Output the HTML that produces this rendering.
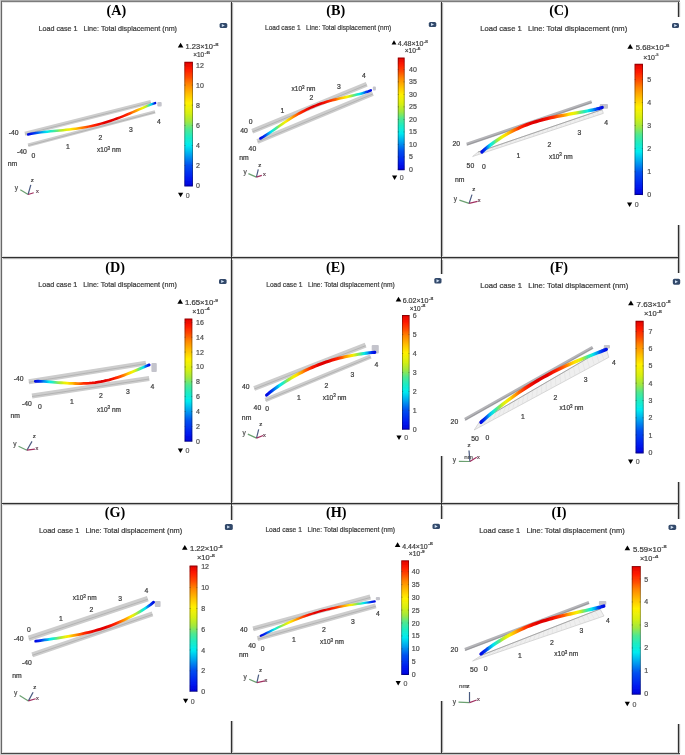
<!DOCTYPE html>
<html><head><meta charset="utf-8"><style>
html,body{margin:0;padding:0;background:#fff;width:685px;height:755px;overflow:hidden}
svg{display:block}
</style></head><body>
<svg width="685" height="755" viewBox="0 0 685 755">
<defs><linearGradient id="cb" x1="0" y1="1" x2="0" y2="0"><stop offset="0" stop-color="#0000d8"/><stop offset="0.06" stop-color="#0018f0"/><stop offset="0.17" stop-color="#0050f0"/><stop offset="0.25" stop-color="#00a0f0"/><stop offset="0.33" stop-color="#00ecf0"/><stop offset="0.4" stop-color="#20ecc0"/><stop offset="0.46" stop-color="#50e890"/><stop offset="0.52" stop-color="#a0e840"/><stop offset="0.59" stop-color="#d8f010"/><stop offset="0.67" stop-color="#fff000"/><stop offset="0.74" stop-color="#ffc000"/><stop offset="0.82" stop-color="#ff8400"/><stop offset="0.88" stop-color="#ff4800"/><stop offset="0.94" stop-color="#ff1a00"/><stop offset="1" stop-color="#e00000"/></linearGradient>
<linearGradient id="cg0" gradientUnits="userSpaceOnUse" x1="28.1" y1="0" x2="155.1" y2="0"><stop offset="0" stop-color="#0008e0"/><stop offset="0.03" stop-color="#0020f0"/><stop offset="0.05" stop-color="#003bf0"/><stop offset="0.07" stop-color="#005af0"/><stop offset="0.1" stop-color="#008df0"/><stop offset="0.12" stop-color="#00bef0"/><stop offset="0.15" stop-color="#01ecef"/><stop offset="0.17" stop-color="#17eccd"/><stop offset="0.2" stop-color="#38eaa8"/><stop offset="0.23" stop-color="#68e878"/><stop offset="0.25" stop-color="#a4e93d"/><stop offset="0.28" stop-color="#c9ee1d"/><stop offset="0.3" stop-color="#e5f00b"/><stop offset="0.33" stop-color="#faf002"/><stop offset="0.35" stop-color="#ffd900"/><stop offset="0.38" stop-color="#ffbd00"/><stop offset="0.4" stop-color="#ffa000"/><stop offset="0.42" stop-color="#ff8400"/><stop offset="0.45" stop-color="#ff6200"/><stop offset="0.47" stop-color="#ff4400"/><stop offset="0.5" stop-color="#ff2e00"/><stop offset="0.53" stop-color="#ff1b00"/><stop offset="0.55" stop-color="#f51200"/><stop offset="0.57" stop-color="#ec0a00"/><stop offset="0.6" stop-color="#e50500"/><stop offset="0.62" stop-color="#e10100"/><stop offset="0.65" stop-color="#e00000"/><stop offset="0.68" stop-color="#e10100"/><stop offset="0.7" stop-color="#e60500"/><stop offset="0.72" stop-color="#ee0c00"/><stop offset="0.75" stop-color="#f91500"/><stop offset="0.78" stop-color="#ff2800"/><stop offset="0.8" stop-color="#ff4400"/><stop offset="0.82" stop-color="#ff7100"/><stop offset="0.85" stop-color="#ff9e00"/><stop offset="0.88" stop-color="#ffce00"/><stop offset="0.9" stop-color="#f2f005"/><stop offset="0.93" stop-color="#baec2a"/><stop offset="0.95" stop-color="#42e99e"/><stop offset="0.97" stop-color="#00d1f0"/><stop offset="1" stop-color="#0008e0"/></linearGradient>
<linearGradient id="cg1" gradientUnits="userSpaceOnUse" x1="260.4" y1="0" x2="370.8" y2="0"><stop offset="0" stop-color="#0008e0"/><stop offset="0.03" stop-color="#002bf0"/><stop offset="0.05" stop-color="#0053f0"/><stop offset="0.07" stop-color="#009ff0"/><stop offset="0.1" stop-color="#00e5f0"/><stop offset="0.12" stop-color="#1eecc3"/><stop offset="0.15" stop-color="#57e889"/><stop offset="0.17" stop-color="#aae938"/><stop offset="0.2" stop-color="#dbf00f"/><stop offset="0.23" stop-color="#f8f003"/><stop offset="0.25" stop-color="#ffd300"/><stop offset="0.28" stop-color="#ffad00"/><stop offset="0.3" stop-color="#ff8900"/><stop offset="0.33" stop-color="#ff6000"/><stop offset="0.35" stop-color="#ff3e00"/><stop offset="0.38" stop-color="#ff2500"/><stop offset="0.4" stop-color="#f91500"/><stop offset="0.42" stop-color="#ee0c00"/><stop offset="0.45" stop-color="#e60500"/><stop offset="0.47" stop-color="#e20100"/><stop offset="0.5" stop-color="#e00000"/><stop offset="0.53" stop-color="#e20100"/><stop offset="0.55" stop-color="#e60500"/><stop offset="0.57" stop-color="#ee0c00"/><stop offset="0.6" stop-color="#f91500"/><stop offset="0.62" stop-color="#ff2500"/><stop offset="0.65" stop-color="#ff3e00"/><stop offset="0.68" stop-color="#ff6000"/><stop offset="0.7" stop-color="#ff8900"/><stop offset="0.72" stop-color="#ffad00"/><stop offset="0.75" stop-color="#ffd300"/><stop offset="0.78" stop-color="#f8f003"/><stop offset="0.8" stop-color="#dbf00f"/><stop offset="0.82" stop-color="#aae938"/><stop offset="0.85" stop-color="#57e889"/><stop offset="0.88" stop-color="#1eecc3"/><stop offset="0.9" stop-color="#00e5f0"/><stop offset="0.93" stop-color="#009ff0"/><stop offset="0.95" stop-color="#0053f0"/><stop offset="0.97" stop-color="#002bf0"/><stop offset="1" stop-color="#0008e0"/></linearGradient>
<linearGradient id="cg2" gradientUnits="userSpaceOnUse" x1="481.9" y1="0" x2="602.2" y2="0"><stop offset="0" stop-color="#0008e0"/><stop offset="0.03" stop-color="#0043f0"/><stop offset="0.05" stop-color="#009cf0"/><stop offset="0.07" stop-color="#04ecea"/><stop offset="0.1" stop-color="#34eaac"/><stop offset="0.12" stop-color="#8be855"/><stop offset="0.15" stop-color="#ceef18"/><stop offset="0.17" stop-color="#f3f005"/><stop offset="0.2" stop-color="#ffd700"/><stop offset="0.23" stop-color="#ffaf00"/><stop offset="0.25" stop-color="#ff8900"/><stop offset="0.28" stop-color="#ff5f00"/><stop offset="0.3" stop-color="#ff3c00"/><stop offset="0.33" stop-color="#ff2300"/><stop offset="0.35" stop-color="#f81400"/><stop offset="0.38" stop-color="#ed0b00"/><stop offset="0.4" stop-color="#e60500"/><stop offset="0.42" stop-color="#e10100"/><stop offset="0.45" stop-color="#e00000"/><stop offset="0.47" stop-color="#e10100"/><stop offset="0.5" stop-color="#e60500"/><stop offset="0.53" stop-color="#ed0b00"/><stop offset="0.55" stop-color="#f61300"/><stop offset="0.57" stop-color="#ff2000"/><stop offset="0.6" stop-color="#ff3500"/><stop offset="0.62" stop-color="#ff5100"/><stop offset="0.65" stop-color="#ff7600"/><stop offset="0.68" stop-color="#ff9900"/><stop offset="0.7" stop-color="#ffba00"/><stop offset="0.72" stop-color="#ffdc00"/><stop offset="0.75" stop-color="#f4f005"/><stop offset="0.78" stop-color="#d9f010"/><stop offset="0.8" stop-color="#acea36"/><stop offset="0.82" stop-color="#64e87c"/><stop offset="0.85" stop-color="#2bebb5"/><stop offset="0.88" stop-color="#09ece2"/><stop offset="0.9" stop-color="#00c2f0"/><stop offset="0.93" stop-color="#0082f0"/><stop offset="0.95" stop-color="#0048f0"/><stop offset="0.97" stop-color="#0026f0"/><stop offset="1" stop-color="#0008e0"/></linearGradient>
<linearGradient id="cg3" gradientUnits="userSpaceOnUse" x1="35.3" y1="0" x2="149.2" y2="0"><stop offset="0" stop-color="#0008e0"/><stop offset="0.03" stop-color="#0026f0"/><stop offset="0.05" stop-color="#0047f0"/><stop offset="0.07" stop-color="#007df0"/><stop offset="0.1" stop-color="#00b9f0"/><stop offset="0.12" stop-color="#03ecec"/><stop offset="0.15" stop-color="#1eecc4"/><stop offset="0.17" stop-color="#49e997"/><stop offset="0.2" stop-color="#8fe851"/><stop offset="0.23" stop-color="#c1ed23"/><stop offset="0.25" stop-color="#e4f00b"/><stop offset="0.28" stop-color="#fcf001"/><stop offset="0.3" stop-color="#ffd400"/><stop offset="0.33" stop-color="#ffb400"/><stop offset="0.35" stop-color="#ff9400"/><stop offset="0.38" stop-color="#ff7300"/><stop offset="0.4" stop-color="#ff5000"/><stop offset="0.42" stop-color="#ff3600"/><stop offset="0.45" stop-color="#ff2100"/><stop offset="0.47" stop-color="#f81400"/><stop offset="0.5" stop-color="#ee0c00"/><stop offset="0.53" stop-color="#e70600"/><stop offset="0.55" stop-color="#e20200"/><stop offset="0.57" stop-color="#e00000"/><stop offset="0.6" stop-color="#e10100"/><stop offset="0.62" stop-color="#e50400"/><stop offset="0.65" stop-color="#eb0a00"/><stop offset="0.68" stop-color="#f51200"/><stop offset="0.7" stop-color="#ff1f00"/><stop offset="0.72" stop-color="#ff3700"/><stop offset="0.75" stop-color="#ff5700"/><stop offset="0.78" stop-color="#ff8300"/><stop offset="0.8" stop-color="#ffa900"/><stop offset="0.82" stop-color="#ffd200"/><stop offset="0.85" stop-color="#f5f004"/><stop offset="0.88" stop-color="#ceef19"/><stop offset="0.9" stop-color="#83e85d"/><stop offset="0.93" stop-color="#28ebb8"/><stop offset="0.95" stop-color="#00d9f0"/><stop offset="0.97" stop-color="#0068f0"/><stop offset="1" stop-color="#0008e0"/></linearGradient>
<linearGradient id="cg4" gradientUnits="userSpaceOnUse" x1="266.6" y1="0" x2="374.8" y2="0"><stop offset="0" stop-color="#0008e0"/><stop offset="0.03" stop-color="#0020f0"/><stop offset="0.05" stop-color="#003ff0"/><stop offset="0.07" stop-color="#006ff0"/><stop offset="0.1" stop-color="#00b0f0"/><stop offset="0.12" stop-color="#01ecee"/><stop offset="0.15" stop-color="#1fecc1"/><stop offset="0.17" stop-color="#53e88d"/><stop offset="0.2" stop-color="#a4e93c"/><stop offset="0.23" stop-color="#d5f012"/><stop offset="0.25" stop-color="#f3f005"/><stop offset="0.28" stop-color="#ffdb00"/><stop offset="0.3" stop-color="#ffb700"/><stop offset="0.33" stop-color="#ff9300"/><stop offset="0.35" stop-color="#ff6c00"/><stop offset="0.38" stop-color="#ff4600"/><stop offset="0.4" stop-color="#ff2c00"/><stop offset="0.42" stop-color="#fc1800"/><stop offset="0.45" stop-color="#f10e00"/><stop offset="0.47" stop-color="#e80700"/><stop offset="0.5" stop-color="#e20200"/><stop offset="0.53" stop-color="#e00000"/><stop offset="0.55" stop-color="#e10100"/><stop offset="0.57" stop-color="#e50500"/><stop offset="0.6" stop-color="#ed0b00"/><stop offset="0.62" stop-color="#f81400"/><stop offset="0.65" stop-color="#ff2500"/><stop offset="0.68" stop-color="#ff3f00"/><stop offset="0.7" stop-color="#ff6400"/><stop offset="0.72" stop-color="#ff8f00"/><stop offset="0.75" stop-color="#ffb500"/><stop offset="0.78" stop-color="#ffdd00"/><stop offset="0.8" stop-color="#eef007"/><stop offset="0.82" stop-color="#c8ee1e"/><stop offset="0.85" stop-color="#84e85c"/><stop offset="0.88" stop-color="#34eaac"/><stop offset="0.9" stop-color="#08ece4"/><stop offset="0.93" stop-color="#00b2f0"/><stop offset="0.95" stop-color="#0061f0"/><stop offset="0.97" stop-color="#002ef0"/><stop offset="1" stop-color="#0008e0"/></linearGradient>
<linearGradient id="cg5" gradientUnits="userSpaceOnUse" x1="481" y1="0" x2="606.3" y2="0"><stop offset="0" stop-color="#0008e0"/><stop offset="0.03" stop-color="#0034f0"/><stop offset="0.05" stop-color="#006ff0"/><stop offset="0.07" stop-color="#00c0f0"/><stop offset="0.1" stop-color="#0fecda"/><stop offset="0.12" stop-color="#3fe9a1"/><stop offset="0.15" stop-color="#93e84d"/><stop offset="0.17" stop-color="#ceef18"/><stop offset="0.2" stop-color="#f1f006"/><stop offset="0.23" stop-color="#ffdb00"/><stop offset="0.25" stop-color="#ffb500"/><stop offset="0.28" stop-color="#ff9000"/><stop offset="0.3" stop-color="#ff6700"/><stop offset="0.33" stop-color="#ff4200"/><stop offset="0.35" stop-color="#ff2900"/><stop offset="0.38" stop-color="#fb1600"/><stop offset="0.4" stop-color="#f00d00"/><stop offset="0.42" stop-color="#e70600"/><stop offset="0.45" stop-color="#e20200"/><stop offset="0.47" stop-color="#e00000"/><stop offset="0.5" stop-color="#e10100"/><stop offset="0.53" stop-color="#e50400"/><stop offset="0.55" stop-color="#ec0a00"/><stop offset="0.57" stop-color="#f51200"/><stop offset="0.6" stop-color="#ff1e00"/><stop offset="0.62" stop-color="#ff3500"/><stop offset="0.65" stop-color="#ff5200"/><stop offset="0.68" stop-color="#ff7900"/><stop offset="0.7" stop-color="#ff9d00"/><stop offset="0.72" stop-color="#ffc100"/><stop offset="0.75" stop-color="#ffe500"/><stop offset="0.78" stop-color="#ecf008"/><stop offset="0.8" stop-color="#c9ee1d"/><stop offset="0.82" stop-color="#91e84f"/><stop offset="0.85" stop-color="#43e99d"/><stop offset="0.88" stop-color="#15ecd0"/><stop offset="0.9" stop-color="#00d6f0"/><stop offset="0.93" stop-color="#0093f0"/><stop offset="0.95" stop-color="#004df0"/><stop offset="0.97" stop-color="#0029f0"/><stop offset="1" stop-color="#0008e0"/></linearGradient>
<linearGradient id="cg6" gradientUnits="userSpaceOnUse" x1="35.7" y1="0" x2="153.6" y2="0"><stop offset="0" stop-color="#0008e0"/><stop offset="0.03" stop-color="#0021f0"/><stop offset="0.05" stop-color="#0041f0"/><stop offset="0.07" stop-color="#0071f0"/><stop offset="0.1" stop-color="#00b0f0"/><stop offset="0.12" stop-color="#00ecf0"/><stop offset="0.15" stop-color="#1decc5"/><stop offset="0.17" stop-color="#4be895"/><stop offset="0.2" stop-color="#98e848"/><stop offset="0.23" stop-color="#caee1c"/><stop offset="0.25" stop-color="#ebf008"/><stop offset="0.28" stop-color="#ffe800"/><stop offset="0.3" stop-color="#ffc500"/><stop offset="0.33" stop-color="#ffa200"/><stop offset="0.35" stop-color="#ff8100"/><stop offset="0.38" stop-color="#ff5900"/><stop offset="0.4" stop-color="#ff3a00"/><stop offset="0.42" stop-color="#ff2300"/><stop offset="0.45" stop-color="#f81400"/><stop offset="0.47" stop-color="#ee0b00"/><stop offset="0.5" stop-color="#e60500"/><stop offset="0.53" stop-color="#e20100"/><stop offset="0.55" stop-color="#e00000"/><stop offset="0.57" stop-color="#e20100"/><stop offset="0.6" stop-color="#e60500"/><stop offset="0.62" stop-color="#ee0c00"/><stop offset="0.65" stop-color="#fa1500"/><stop offset="0.68" stop-color="#ff2700"/><stop offset="0.7" stop-color="#ff4200"/><stop offset="0.72" stop-color="#ff6800"/><stop offset="0.75" stop-color="#ff9200"/><stop offset="0.78" stop-color="#ffb900"/><stop offset="0.8" stop-color="#ffe200"/><stop offset="0.82" stop-color="#eaf009"/><stop offset="0.85" stop-color="#bfec26"/><stop offset="0.88" stop-color="#70e870"/><stop offset="0.9" stop-color="#23ecbd"/><stop offset="0.93" stop-color="#00e2f0"/><stop offset="0.95" stop-color="#008cf0"/><stop offset="0.97" stop-color="#003df0"/><stop offset="1" stop-color="#0008e0"/></linearGradient>
<linearGradient id="cg7" gradientUnits="userSpaceOnUse" x1="260.8" y1="0" x2="374.7" y2="0"><stop offset="0" stop-color="#0008e0"/><stop offset="0.03" stop-color="#0023f0"/><stop offset="0.05" stop-color="#0045f0"/><stop offset="0.07" stop-color="#007ef0"/><stop offset="0.1" stop-color="#00c1f0"/><stop offset="0.12" stop-color="#0aece0"/><stop offset="0.15" stop-color="#30ebb0"/><stop offset="0.17" stop-color="#72e86e"/><stop offset="0.2" stop-color="#b7eb2c"/><stop offset="0.23" stop-color="#e2f00c"/><stop offset="0.25" stop-color="#fef000"/><stop offset="0.28" stop-color="#ffcc00"/><stop offset="0.3" stop-color="#ffa700"/><stop offset="0.33" stop-color="#ff8400"/><stop offset="0.35" stop-color="#ff5b00"/><stop offset="0.38" stop-color="#ff3a00"/><stop offset="0.4" stop-color="#ff2200"/><stop offset="0.42" stop-color="#f71300"/><stop offset="0.45" stop-color="#ed0b00"/><stop offset="0.47" stop-color="#e50400"/><stop offset="0.5" stop-color="#e10100"/><stop offset="0.53" stop-color="#e00000"/><stop offset="0.55" stop-color="#e20200"/><stop offset="0.57" stop-color="#e80700"/><stop offset="0.6" stop-color="#f10e00"/><stop offset="0.62" stop-color="#fd1800"/><stop offset="0.65" stop-color="#ff2d00"/><stop offset="0.68" stop-color="#ff4800"/><stop offset="0.7" stop-color="#ff7100"/><stop offset="0.72" stop-color="#ff9900"/><stop offset="0.75" stop-color="#ffc000"/><stop offset="0.78" stop-color="#ffe700"/><stop offset="0.8" stop-color="#e8f00a"/><stop offset="0.82" stop-color="#bdec27"/><stop offset="0.85" stop-color="#75e86b"/><stop offset="0.88" stop-color="#2cebb4"/><stop offset="0.9" stop-color="#04ecea"/><stop offset="0.93" stop-color="#00abf0"/><stop offset="0.95" stop-color="#005cf0"/><stop offset="0.97" stop-color="#002df0"/><stop offset="1" stop-color="#0008e0"/></linearGradient>
<linearGradient id="cg8" gradientUnits="userSpaceOnUse" x1="481" y1="0" x2="603.8" y2="0"><stop offset="0" stop-color="#0008e0"/><stop offset="0.03" stop-color="#002bf0"/><stop offset="0.05" stop-color="#0053f0"/><stop offset="0.07" stop-color="#009ff0"/><stop offset="0.1" stop-color="#00e5f0"/><stop offset="0.12" stop-color="#1eecc3"/><stop offset="0.15" stop-color="#57e889"/><stop offset="0.17" stop-color="#aae938"/><stop offset="0.2" stop-color="#dbf00f"/><stop offset="0.23" stop-color="#f8f003"/><stop offset="0.25" stop-color="#ffd300"/><stop offset="0.28" stop-color="#ffad00"/><stop offset="0.3" stop-color="#ff8900"/><stop offset="0.33" stop-color="#ff6000"/><stop offset="0.35" stop-color="#ff3e00"/><stop offset="0.38" stop-color="#ff2500"/><stop offset="0.4" stop-color="#f91500"/><stop offset="0.42" stop-color="#ee0c00"/><stop offset="0.45" stop-color="#e60500"/><stop offset="0.47" stop-color="#e20100"/><stop offset="0.5" stop-color="#e00000"/><stop offset="0.53" stop-color="#e20100"/><stop offset="0.55" stop-color="#e60500"/><stop offset="0.57" stop-color="#ee0c00"/><stop offset="0.6" stop-color="#f91500"/><stop offset="0.62" stop-color="#ff2500"/><stop offset="0.65" stop-color="#ff3e00"/><stop offset="0.68" stop-color="#ff6000"/><stop offset="0.7" stop-color="#ff8900"/><stop offset="0.72" stop-color="#ffad00"/><stop offset="0.75" stop-color="#ffd300"/><stop offset="0.78" stop-color="#f8f003"/><stop offset="0.8" stop-color="#dbf00f"/><stop offset="0.82" stop-color="#aae938"/><stop offset="0.85" stop-color="#57e889"/><stop offset="0.88" stop-color="#1eecc3"/><stop offset="0.9" stop-color="#00e5f0"/><stop offset="0.93" stop-color="#009ff0"/><stop offset="0.95" stop-color="#0053f0"/><stop offset="0.97" stop-color="#002bf0"/><stop offset="1" stop-color="#0008e0"/></linearGradient>
<filter id="bl" x="-5%" y="-5%" width="110%" height="110%"><feGaussianBlur stdDeviation="0.42"/></filter>
</defs>
<rect width="685" height="755" fill="#fff"/>
<g filter="url(#bl)">
<g transform="translate(116.3 14.6) scale(1 1.06)">
<text x="0" y="0" font-family='"Liberation Serif", serif' font-size="14.2" font-weight="bold" text-anchor="middle" fill="#000">(A)</text>
</g>
<text x="38.5" y="31.3" font-family='"Liberation Sans", sans-serif' font-size="7.6" font-weight="normal" text-anchor="start" fill="#3a3a3a" stroke="#3a3a3a" stroke-width="0.22" textLength="138.5" lengthAdjust="spacingAndGlyphs">Load case 1 &#160;&#160;Line: Total displacement (nm)</text>
<rect x="219.6" y="23" width="7.7" height="5" rx="1.6" fill="#33496a"/>
<path d="M221.8 23.9 l3 1.6 l-3 1.6z" fill="#cfe0f4"/>
<path d="M177.8 47.4 l5.6 0 l-2.8 -4.76z" fill="#000"/>
<text x="185.5" y="49" font-family='"Liberation Sans", sans-serif' font-size="7.2" font-weight="normal" text-anchor="start" fill="#404040" stroke="#404040" stroke-width="0.22" textLength="27.4" lengthAdjust="spacingAndGlyphs">1.23&#215;10</text>
<text x="213.2" y="45.6" font-family='"Liberation Sans", sans-serif' font-size="4.4" font-weight="normal" text-anchor="start" fill="#404040" stroke="#404040" stroke-width="0.22" textLength="5.2" lengthAdjust="spacingAndGlyphs">-8</text>
<text x="193.2" y="57.3" font-family='"Liberation Sans", sans-serif' font-size="7.2" font-weight="normal" text-anchor="start" fill="#404040" stroke="#404040" stroke-width="0.22" textLength="10.9" lengthAdjust="spacingAndGlyphs">&#215;10</text>
<text x="204.4" y="53.9" font-family='"Liberation Sans", sans-serif' font-size="4.4" font-weight="normal" text-anchor="start" fill="#404040" stroke="#404040" stroke-width="0.22" textLength="5.6" lengthAdjust="spacingAndGlyphs">-6</text>
<rect x="184.4" y="61.8" width="8.5" height="124.6" fill="url(#cb)"/>
<rect x="184.8" y="62.2" width="7.7" height="123.8" fill="none" stroke="#000" stroke-opacity="0.42" stroke-width="0.8"/>
<text x="196" y="67.5" font-family='"Liberation Sans", sans-serif' font-size="7" font-weight="normal" text-anchor="start" fill="#505050" stroke="#505050" stroke-width="0.22">12</text>
<line x1="184.4" y1="65" x2="185.6" y2="65" stroke="#333" stroke-width="0.6" stroke-linecap="butt" opacity="0.6"/>
<line x1="191.7" y1="65" x2="192.9" y2="65" stroke="#333" stroke-width="0.6" stroke-linecap="butt" opacity="0.6"/>
<text x="196" y="87.62" font-family='"Liberation Sans", sans-serif' font-size="7" font-weight="normal" text-anchor="start" fill="#505050" stroke="#505050" stroke-width="0.22">10</text>
<line x1="184.4" y1="85.12" x2="185.6" y2="85.12" stroke="#333" stroke-width="0.6" stroke-linecap="butt" opacity="0.6"/>
<line x1="191.7" y1="85.12" x2="192.9" y2="85.12" stroke="#333" stroke-width="0.6" stroke-linecap="butt" opacity="0.6"/>
<text x="196" y="107.73" font-family='"Liberation Sans", sans-serif' font-size="7" font-weight="normal" text-anchor="start" fill="#505050" stroke="#505050" stroke-width="0.22">8</text>
<line x1="184.4" y1="105.23" x2="185.6" y2="105.23" stroke="#333" stroke-width="0.6" stroke-linecap="butt" opacity="0.6"/>
<line x1="191.7" y1="105.23" x2="192.9" y2="105.23" stroke="#333" stroke-width="0.6" stroke-linecap="butt" opacity="0.6"/>
<text x="196" y="127.85" font-family='"Liberation Sans", sans-serif' font-size="7" font-weight="normal" text-anchor="start" fill="#505050" stroke="#505050" stroke-width="0.22">6</text>
<line x1="184.4" y1="125.35" x2="185.6" y2="125.35" stroke="#333" stroke-width="0.6" stroke-linecap="butt" opacity="0.6"/>
<line x1="191.7" y1="125.35" x2="192.9" y2="125.35" stroke="#333" stroke-width="0.6" stroke-linecap="butt" opacity="0.6"/>
<text x="196" y="147.97" font-family='"Liberation Sans", sans-serif' font-size="7" font-weight="normal" text-anchor="start" fill="#505050" stroke="#505050" stroke-width="0.22">4</text>
<line x1="184.4" y1="145.47" x2="185.6" y2="145.47" stroke="#333" stroke-width="0.6" stroke-linecap="butt" opacity="0.6"/>
<line x1="191.7" y1="145.47" x2="192.9" y2="145.47" stroke="#333" stroke-width="0.6" stroke-linecap="butt" opacity="0.6"/>
<text x="196" y="168.08" font-family='"Liberation Sans", sans-serif' font-size="7" font-weight="normal" text-anchor="start" fill="#505050" stroke="#505050" stroke-width="0.22">2</text>
<line x1="184.4" y1="165.58" x2="185.6" y2="165.58" stroke="#333" stroke-width="0.6" stroke-linecap="butt" opacity="0.6"/>
<line x1="191.7" y1="165.58" x2="192.9" y2="165.58" stroke="#333" stroke-width="0.6" stroke-linecap="butt" opacity="0.6"/>
<text x="196" y="188.2" font-family='"Liberation Sans", sans-serif' font-size="7" font-weight="normal" text-anchor="start" fill="#505050" stroke="#505050" stroke-width="0.22">0</text>
<line x1="184.4" y1="185.7" x2="185.6" y2="185.7" stroke="#333" stroke-width="0.6" stroke-linecap="butt" opacity="0.6"/>
<line x1="191.7" y1="185.7" x2="192.9" y2="185.7" stroke="#333" stroke-width="0.6" stroke-linecap="butt" opacity="0.6"/>
<path d="M178 192.7 l5.2 0 l-2.6 4.6z" fill="#000"/>
<text x="185.8" y="197.5" font-family='"Liberation Sans", sans-serif' font-size="7" font-weight="normal" text-anchor="start" fill="#606060" stroke="#606060" stroke-width="0.22">0</text>
<line x1="24.9" y1="133.8" x2="150.8" y2="102" stroke="#cdcdcd" stroke-width="4" stroke-linecap="butt" opacity="1"/>
<line x1="24.9" y1="134.2" x2="150.8" y2="102.4" stroke="#a0a0a0" stroke-width="0.8" stroke-linecap="butt" opacity="0.7"/>
<line x1="28.1" y1="145.2" x2="155.1" y2="111.9" stroke="#cdcdcd" stroke-width="3.5" stroke-linecap="butt" opacity="1"/>
<line x1="28.1" y1="145.55" x2="155.1" y2="112.25" stroke="#a0a0a0" stroke-width="0.8" stroke-linecap="butt" opacity="0.7"/>
<rect x="157.3" y="102" width="4.4" height="4.4" fill="#c4c4cc" rx="1"/>
<path d="M28.1 134.4 L31.28 133.76 L34.45 133.24 L37.62 132.78 L40.8 132.37 L43.98 132 L47.15 131.66 L50.33 131.34 L53.5 131.04 L56.67 130.74 L59.85 130.44 L63.03 130.14 L66.2 129.81 L69.38 129.47 L72.55 129.1 L75.72 128.69 L78.9 128.25 L82.08 127.76 L85.25 127.22 L88.42 126.62 L91.6 125.97 L94.78 125.26 L97.95 124.48 L101.12 123.64 L104.3 122.74 L107.47 121.77 L110.65 120.74 L113.83 119.65 L117 118.5 L120.18 117.31 L123.35 116.06 L126.53 114.78 L129.7 113.47 L132.88 112.12 L136.05 110.77 L139.22 109.41 L142.4 108.05 L145.58 106.72 L148.75 105.42 L151.93 104.19 L155.1 103.1" fill="none" stroke="url(#cg0)" stroke-width="2.5" stroke-linecap="round" stroke-linejoin="round"/>
<text x="13.6" y="134.5" font-family='"Liberation Sans", sans-serif' font-size="6.8" font-weight="normal" text-anchor="middle" fill="#3a3a3a" stroke="#3a3a3a" stroke-width="0.22">-40</text>
<text x="21.8" y="154" font-family='"Liberation Sans", sans-serif' font-size="6.8" font-weight="normal" text-anchor="middle" fill="#3a3a3a" stroke="#3a3a3a" stroke-width="0.22">-40</text>
<text x="33.5" y="157.5" font-family='"Liberation Sans", sans-serif' font-size="6.8" font-weight="normal" text-anchor="middle" fill="#3a3a3a" stroke="#3a3a3a" stroke-width="0.22">0</text>
<text x="68" y="149.1" font-family='"Liberation Sans", sans-serif' font-size="6.8" font-weight="normal" text-anchor="middle" fill="#3a3a3a" stroke="#3a3a3a" stroke-width="0.22">1</text>
<text x="100.5" y="139.5" font-family='"Liberation Sans", sans-serif' font-size="6.8" font-weight="normal" text-anchor="middle" fill="#3a3a3a" stroke="#3a3a3a" stroke-width="0.22">2</text>
<text x="109" y="152.1" font-family='"Liberation Sans", sans-serif' font-size="6.5" font-weight="normal" text-anchor="middle" fill="#3a3a3a" stroke="#3a3a3a" stroke-width="0.22">x10<tspan dy="-2.5" font-size="4.5">3</tspan><tspan dy="2.5"> nm</tspan></text>
<text x="131" y="131.5" font-family='"Liberation Sans", sans-serif' font-size="6.8" font-weight="normal" text-anchor="middle" fill="#3a3a3a" stroke="#3a3a3a" stroke-width="0.22">3</text>
<text x="158.8" y="123.5" font-family='"Liberation Sans", sans-serif' font-size="6.8" font-weight="normal" text-anchor="middle" fill="#3a3a3a" stroke="#3a3a3a" stroke-width="0.22">4</text>
<text x="12.4" y="166.2" font-family='"Liberation Sans", sans-serif' font-size="6.8" font-weight="normal" text-anchor="middle" fill="#3a3a3a" stroke="#3a3a3a" stroke-width="0.22">nm</text>
<line x1="28.1" y1="194.5" x2="20.3" y2="189.8" stroke="#6aa070" stroke-width="1.2" stroke-linecap="butt" opacity="1"/>
<line x1="28.1" y1="194.5" x2="30.8" y2="184.8" stroke="#4a5a80" stroke-width="1.2" stroke-linecap="butt" opacity="1"/>
<line x1="28.1" y1="194.5" x2="33.7" y2="192.7" stroke="#a03060" stroke-width="1.2" stroke-linecap="butt" opacity="1"/>
<text x="16.5" y="189.7" font-family='"Liberation Sans", sans-serif' font-size="6.6" font-weight="normal" text-anchor="middle" fill="#505050" stroke="#505050" stroke-width="0.22">y</text>
<text x="32.2" y="182.4" font-family='"Liberation Sans", sans-serif' font-size="6.2" font-weight="normal" text-anchor="middle" fill="#404040" stroke="#404040" stroke-width="0.22">z</text>
<text x="37.5" y="193.3" font-family='"Liberation Sans", sans-serif' font-size="5.6" font-weight="normal" text-anchor="middle" fill="#604050" stroke="#604050" stroke-width="0.22">x</text>
<g transform="translate(335.8 15) scale(1 1.06)">
<text x="0" y="0" font-family='"Liberation Serif", serif' font-size="14.2" font-weight="bold" text-anchor="middle" fill="#000">(B)</text>
</g>
<text x="265" y="29.5" font-family='"Liberation Sans", sans-serif' font-size="7.6" font-weight="normal" text-anchor="start" fill="#3a3a3a" stroke="#3a3a3a" stroke-width="0.22" textLength="126.3" lengthAdjust="spacingAndGlyphs">Load case 1 &#160;&#160;Line: Total displacement (nm)</text>
<rect x="428.8" y="22" width="7.5" height="5" rx="1.6" fill="#33496a"/>
<path d="M431 22.9 l3 1.6 l-3 1.6z" fill="#cfe0f4"/>
<path d="M391.6 44.4 l4.8 0 l-2.4 -4.08z" fill="#000"/>
<text x="397.7" y="46" font-family='"Liberation Sans", sans-serif' font-size="7.2" font-weight="normal" text-anchor="start" fill="#404040" stroke="#404040" stroke-width="0.22" textLength="25.8" lengthAdjust="spacingAndGlyphs">4.48&#215;10</text>
<text x="423.8" y="42.6" font-family='"Liberation Sans", sans-serif' font-size="4.4" font-weight="normal" text-anchor="start" fill="#404040" stroke="#404040" stroke-width="0.22" textLength="4.1" lengthAdjust="spacingAndGlyphs">-8</text>
<text x="404.7" y="53" font-family='"Liberation Sans", sans-serif' font-size="7.2" font-weight="normal" text-anchor="start" fill="#404040" stroke="#404040" stroke-width="0.22" textLength="11.3" lengthAdjust="spacingAndGlyphs">&#215;10</text>
<text x="416.3" y="49.6" font-family='"Liberation Sans", sans-serif' font-size="4.4" font-weight="normal" text-anchor="start" fill="#404040" stroke="#404040" stroke-width="0.22" textLength="4.2" lengthAdjust="spacingAndGlyphs">-6</text>
<rect x="397.8" y="57.6" width="6.8" height="112.6" fill="url(#cb)"/>
<rect x="398.2" y="58" width="6" height="111.8" fill="none" stroke="#000" stroke-opacity="0.42" stroke-width="0.8"/>
<text x="409" y="71.8" font-family='"Liberation Sans", sans-serif' font-size="7" font-weight="normal" text-anchor="start" fill="#505050" stroke="#505050" stroke-width="0.22">40</text>
<line x1="397.8" y1="69.3" x2="399" y2="69.3" stroke="#333" stroke-width="0.6" stroke-linecap="butt" opacity="0.6"/>
<line x1="403.4" y1="69.3" x2="404.6" y2="69.3" stroke="#333" stroke-width="0.6" stroke-linecap="butt" opacity="0.6"/>
<text x="409" y="84.31" font-family='"Liberation Sans", sans-serif' font-size="7" font-weight="normal" text-anchor="start" fill="#505050" stroke="#505050" stroke-width="0.22">35</text>
<line x1="397.8" y1="81.81" x2="399" y2="81.81" stroke="#333" stroke-width="0.6" stroke-linecap="butt" opacity="0.6"/>
<line x1="403.4" y1="81.81" x2="404.6" y2="81.81" stroke="#333" stroke-width="0.6" stroke-linecap="butt" opacity="0.6"/>
<text x="409" y="96.83" font-family='"Liberation Sans", sans-serif' font-size="7" font-weight="normal" text-anchor="start" fill="#505050" stroke="#505050" stroke-width="0.22">30</text>
<line x1="397.8" y1="94.33" x2="399" y2="94.33" stroke="#333" stroke-width="0.6" stroke-linecap="butt" opacity="0.6"/>
<line x1="403.4" y1="94.33" x2="404.6" y2="94.33" stroke="#333" stroke-width="0.6" stroke-linecap="butt" opacity="0.6"/>
<text x="409" y="109.34" font-family='"Liberation Sans", sans-serif' font-size="7" font-weight="normal" text-anchor="start" fill="#505050" stroke="#505050" stroke-width="0.22">25</text>
<line x1="397.8" y1="106.84" x2="399" y2="106.84" stroke="#333" stroke-width="0.6" stroke-linecap="butt" opacity="0.6"/>
<line x1="403.4" y1="106.84" x2="404.6" y2="106.84" stroke="#333" stroke-width="0.6" stroke-linecap="butt" opacity="0.6"/>
<text x="409" y="121.85" font-family='"Liberation Sans", sans-serif' font-size="7" font-weight="normal" text-anchor="start" fill="#505050" stroke="#505050" stroke-width="0.22">20</text>
<line x1="397.8" y1="119.35" x2="399" y2="119.35" stroke="#333" stroke-width="0.6" stroke-linecap="butt" opacity="0.6"/>
<line x1="403.4" y1="119.35" x2="404.6" y2="119.35" stroke="#333" stroke-width="0.6" stroke-linecap="butt" opacity="0.6"/>
<text x="409" y="134.36" font-family='"Liberation Sans", sans-serif' font-size="7" font-weight="normal" text-anchor="start" fill="#505050" stroke="#505050" stroke-width="0.22">15</text>
<line x1="397.8" y1="131.86" x2="399" y2="131.86" stroke="#333" stroke-width="0.6" stroke-linecap="butt" opacity="0.6"/>
<line x1="403.4" y1="131.86" x2="404.6" y2="131.86" stroke="#333" stroke-width="0.6" stroke-linecap="butt" opacity="0.6"/>
<text x="409" y="146.88" font-family='"Liberation Sans", sans-serif' font-size="7" font-weight="normal" text-anchor="start" fill="#505050" stroke="#505050" stroke-width="0.22">10</text>
<line x1="397.8" y1="144.38" x2="399" y2="144.38" stroke="#333" stroke-width="0.6" stroke-linecap="butt" opacity="0.6"/>
<line x1="403.4" y1="144.38" x2="404.6" y2="144.38" stroke="#333" stroke-width="0.6" stroke-linecap="butt" opacity="0.6"/>
<text x="409" y="159.39" font-family='"Liberation Sans", sans-serif' font-size="7" font-weight="normal" text-anchor="start" fill="#505050" stroke="#505050" stroke-width="0.22">5</text>
<line x1="397.8" y1="156.89" x2="399" y2="156.89" stroke="#333" stroke-width="0.6" stroke-linecap="butt" opacity="0.6"/>
<line x1="403.4" y1="156.89" x2="404.6" y2="156.89" stroke="#333" stroke-width="0.6" stroke-linecap="butt" opacity="0.6"/>
<text x="409" y="171.9" font-family='"Liberation Sans", sans-serif' font-size="7" font-weight="normal" text-anchor="start" fill="#505050" stroke="#505050" stroke-width="0.22">0</text>
<line x1="397.8" y1="169.4" x2="399" y2="169.4" stroke="#333" stroke-width="0.6" stroke-linecap="butt" opacity="0.6"/>
<line x1="403.4" y1="169.4" x2="404.6" y2="169.4" stroke="#333" stroke-width="0.6" stroke-linecap="butt" opacity="0.6"/>
<path d="M392 175.4 l5.2 0 l-2.6 4.6z" fill="#000"/>
<text x="399.8" y="180.2" font-family='"Liberation Sans", sans-serif' font-size="7" font-weight="normal" text-anchor="start" fill="#606060" stroke="#606060" stroke-width="0.22">0</text>
<line x1="252.3" y1="131.3" x2="366.7" y2="84.3" stroke="#cdcdcd" stroke-width="5" stroke-linecap="butt" opacity="1"/>
<line x1="252.3" y1="131.8" x2="366.7" y2="84.8" stroke="#a0a0a0" stroke-width="0.8" stroke-linecap="butt" opacity="0.7"/>
<line x1="257.4" y1="141.5" x2="372.8" y2="93.5" stroke="#cdcdcd" stroke-width="5" stroke-linecap="butt" opacity="1"/>
<line x1="257.4" y1="142" x2="372.8" y2="94" stroke="#a0a0a0" stroke-width="0.8" stroke-linecap="butt" opacity="0.7"/>
<rect x="372.8" y="86.4" width="3.1" height="4" fill="#c4c4cc" rx="1"/>
<path d="M260.4 138.5 L263.16 136.94 L265.92 135.2 L268.68 133.38 L271.44 131.5 L274.2 129.6 L276.96 127.68 L279.72 125.77 L282.48 123.88 L285.24 122.02 L288 120.2 L290.76 118.43 L293.52 116.72 L296.28 115.07 L299.04 113.49 L301.8 111.99 L304.56 110.56 L307.32 109.2 L310.08 107.93 L312.84 106.74 L315.6 105.62 L318.36 104.57 L321.12 103.6 L323.88 102.7 L326.64 101.85 L329.4 101.06 L332.16 100.32 L334.92 99.63 L337.68 98.96 L340.44 98.33 L343.2 97.71 L345.96 97.11 L348.72 96.5 L351.48 95.89 L354.24 95.26 L357 94.6 L359.76 93.9 L362.52 93.15 L365.28 92.34 L368.04 91.44 L370.8 90.4" fill="none" stroke="url(#cg1)" stroke-width="2.6" stroke-linecap="round" stroke-linejoin="round"/>
<text x="250.7" y="124.4" font-family='"Liberation Sans", sans-serif' font-size="6.8" font-weight="normal" text-anchor="middle" fill="#3a3a3a" stroke="#3a3a3a" stroke-width="0.22">0</text>
<text x="244" y="132.9" font-family='"Liberation Sans", sans-serif' font-size="6.8" font-weight="normal" text-anchor="middle" fill="#3a3a3a" stroke="#3a3a3a" stroke-width="0.22">40</text>
<text x="252.4" y="151.2" font-family='"Liberation Sans", sans-serif' font-size="6.8" font-weight="normal" text-anchor="middle" fill="#3a3a3a" stroke="#3a3a3a" stroke-width="0.22">40</text>
<text x="244" y="159.5" font-family='"Liberation Sans", sans-serif' font-size="6.8" font-weight="normal" text-anchor="middle" fill="#3a3a3a" stroke="#3a3a3a" stroke-width="0.22">nm</text>
<text x="282.4" y="112.5" font-family='"Liberation Sans", sans-serif' font-size="6.8" font-weight="normal" text-anchor="middle" fill="#3a3a3a" stroke="#3a3a3a" stroke-width="0.22">1</text>
<text x="311.3" y="100.2" font-family='"Liberation Sans", sans-serif' font-size="6.8" font-weight="normal" text-anchor="middle" fill="#3a3a3a" stroke="#3a3a3a" stroke-width="0.22">2</text>
<text x="303.5" y="91" font-family='"Liberation Sans", sans-serif' font-size="6.5" font-weight="normal" text-anchor="middle" fill="#3a3a3a" stroke="#3a3a3a" stroke-width="0.22">x10<tspan dy="-2.5" font-size="4.5">3</tspan><tspan dy="2.5"> nm</tspan></text>
<text x="339" y="89.3" font-family='"Liberation Sans", sans-serif' font-size="6.8" font-weight="normal" text-anchor="middle" fill="#3a3a3a" stroke="#3a3a3a" stroke-width="0.22">3</text>
<text x="364" y="78.1" font-family='"Liberation Sans", sans-serif' font-size="6.8" font-weight="normal" text-anchor="middle" fill="#3a3a3a" stroke="#3a3a3a" stroke-width="0.22">4</text>
<line x1="256.4" y1="177.1" x2="248.4" y2="173.6" stroke="#6aa070" stroke-width="1.2" stroke-linecap="butt" opacity="1"/>
<line x1="256.4" y1="177.1" x2="258.3" y2="169.4" stroke="#4a5a80" stroke-width="1.2" stroke-linecap="butt" opacity="1"/>
<line x1="256.4" y1="177.1" x2="261.8" y2="175.4" stroke="#a03060" stroke-width="1.2" stroke-linecap="butt" opacity="1"/>
<text x="245.2" y="173.6" font-family='"Liberation Sans", sans-serif' font-size="6.6" font-weight="normal" text-anchor="middle" fill="#505050" stroke="#505050" stroke-width="0.22">y</text>
<text x="259.8" y="167.2" font-family='"Liberation Sans", sans-serif' font-size="6.2" font-weight="normal" text-anchor="middle" fill="#404040" stroke="#404040" stroke-width="0.22">z</text>
<text x="264.3" y="175.9" font-family='"Liberation Sans", sans-serif' font-size="5.6" font-weight="normal" text-anchor="middle" fill="#604050" stroke="#604050" stroke-width="0.22">x</text>
<g transform="translate(559 14.5) scale(1 1.06)">
<text x="0" y="0" font-family='"Liberation Serif", serif' font-size="14.2" font-weight="bold" text-anchor="middle" fill="#000">(C)</text>
</g>
<text x="480.3" y="30.7" font-family='"Liberation Sans", sans-serif' font-size="7.6" font-weight="normal" text-anchor="start" fill="#3a3a3a" stroke="#3a3a3a" stroke-width="0.22" textLength="146.9" lengthAdjust="spacingAndGlyphs">Load case 1 &#160;&#160;Line: Total displacement (nm)</text>
<rect x="672" y="23" width="7" height="5" rx="1.6" fill="#33496a"/>
<path d="M674.2 23.9 l3 1.6 l-3 1.6z" fill="#cfe0f4"/>
<path d="M627.4 48.7 l5.6 0 l-2.8 -4.76z" fill="#000"/>
<text x="635.8" y="50.3" font-family='"Liberation Sans", sans-serif' font-size="7.2" font-weight="normal" text-anchor="start" fill="#404040" stroke="#404040" stroke-width="0.22" textLength="28" lengthAdjust="spacingAndGlyphs">5.68&#215;10</text>
<text x="664.1" y="46.9" font-family='"Liberation Sans", sans-serif' font-size="4.4" font-weight="normal" text-anchor="start" fill="#404040" stroke="#404040" stroke-width="0.22" textLength="5.4" lengthAdjust="spacingAndGlyphs">-6</text>
<text x="643.2" y="59.5" font-family='"Liberation Sans", sans-serif' font-size="7.2" font-weight="normal" text-anchor="start" fill="#404040" stroke="#404040" stroke-width="0.22" textLength="11.8" lengthAdjust="spacingAndGlyphs">&#215;10</text>
<text x="655.3" y="56.1" font-family='"Liberation Sans", sans-serif' font-size="4.4" font-weight="normal" text-anchor="start" fill="#404040" stroke="#404040" stroke-width="0.22" textLength="3.2" lengthAdjust="spacingAndGlyphs">-5</text>
<rect x="634.6" y="63.8" width="8.4" height="131.2" fill="url(#cb)"/>
<rect x="635" y="64.2" width="7.6" height="130.4" fill="none" stroke="#000" stroke-opacity="0.42" stroke-width="0.8"/>
<text x="647.2" y="81.9" font-family='"Liberation Sans", sans-serif' font-size="7" font-weight="normal" text-anchor="start" fill="#505050" stroke="#505050" stroke-width="0.22">5</text>
<line x1="634.6" y1="79.4" x2="635.8" y2="79.4" stroke="#333" stroke-width="0.6" stroke-linecap="butt" opacity="0.6"/>
<line x1="641.8" y1="79.4" x2="643" y2="79.4" stroke="#333" stroke-width="0.6" stroke-linecap="butt" opacity="0.6"/>
<text x="647.2" y="104.98" font-family='"Liberation Sans", sans-serif' font-size="7" font-weight="normal" text-anchor="start" fill="#505050" stroke="#505050" stroke-width="0.22">4</text>
<line x1="634.6" y1="102.48" x2="635.8" y2="102.48" stroke="#333" stroke-width="0.6" stroke-linecap="butt" opacity="0.6"/>
<line x1="641.8" y1="102.48" x2="643" y2="102.48" stroke="#333" stroke-width="0.6" stroke-linecap="butt" opacity="0.6"/>
<text x="647.2" y="128.06" font-family='"Liberation Sans", sans-serif' font-size="7" font-weight="normal" text-anchor="start" fill="#505050" stroke="#505050" stroke-width="0.22">3</text>
<line x1="634.6" y1="125.56" x2="635.8" y2="125.56" stroke="#333" stroke-width="0.6" stroke-linecap="butt" opacity="0.6"/>
<line x1="641.8" y1="125.56" x2="643" y2="125.56" stroke="#333" stroke-width="0.6" stroke-linecap="butt" opacity="0.6"/>
<text x="647.2" y="151.14" font-family='"Liberation Sans", sans-serif' font-size="7" font-weight="normal" text-anchor="start" fill="#505050" stroke="#505050" stroke-width="0.22">2</text>
<line x1="634.6" y1="148.64" x2="635.8" y2="148.64" stroke="#333" stroke-width="0.6" stroke-linecap="butt" opacity="0.6"/>
<line x1="641.8" y1="148.64" x2="643" y2="148.64" stroke="#333" stroke-width="0.6" stroke-linecap="butt" opacity="0.6"/>
<text x="647.2" y="174.22" font-family='"Liberation Sans", sans-serif' font-size="7" font-weight="normal" text-anchor="start" fill="#505050" stroke="#505050" stroke-width="0.22">1</text>
<line x1="634.6" y1="171.72" x2="635.8" y2="171.72" stroke="#333" stroke-width="0.6" stroke-linecap="butt" opacity="0.6"/>
<line x1="641.8" y1="171.72" x2="643" y2="171.72" stroke="#333" stroke-width="0.6" stroke-linecap="butt" opacity="0.6"/>
<text x="647.2" y="197.3" font-family='"Liberation Sans", sans-serif' font-size="7" font-weight="normal" text-anchor="start" fill="#505050" stroke="#505050" stroke-width="0.22">0</text>
<line x1="634.6" y1="194.8" x2="635.8" y2="194.8" stroke="#333" stroke-width="0.6" stroke-linecap="butt" opacity="0.6"/>
<line x1="641.8" y1="194.8" x2="643" y2="194.8" stroke="#333" stroke-width="0.6" stroke-linecap="butt" opacity="0.6"/>
<path d="M627 202.4 l5.2 0 l-2.6 4.6z" fill="#000"/>
<text x="634.8" y="207.2" font-family='"Liberation Sans", sans-serif' font-size="7" font-weight="normal" text-anchor="start" fill="#606060" stroke="#606060" stroke-width="0.22">0</text>
<line x1="466.7" y1="144.2" x2="591.7" y2="101.7" stroke="#b4b4b8" stroke-width="3.2" stroke-linecap="butt" opacity="1"/>
<line x1="466.7" y1="145" x2="591.7" y2="102.5" stroke="#8c8c90" stroke-width="0.9" stroke-linecap="butt" opacity="0.8"/>
<polygon points="472.6,156.5 603.3,113.4 602.2,109.6 478,152" fill="#efefef" stroke="#c8c8c8" stroke-width="0.7"/>
<line x1="477.27" y1="154.96" x2="481.24" y2="150.49" stroke="#dcdcdc" stroke-width="0.45" stroke-linecap="butt" opacity="1"/>
<line x1="481.94" y1="153.42" x2="485.67" y2="148.97" stroke="#dcdcdc" stroke-width="0.45" stroke-linecap="butt" opacity="1"/>
<line x1="486.6" y1="151.88" x2="490.11" y2="147.46" stroke="#dcdcdc" stroke-width="0.45" stroke-linecap="butt" opacity="1"/>
<line x1="491.27" y1="150.34" x2="494.54" y2="145.94" stroke="#dcdcdc" stroke-width="0.45" stroke-linecap="butt" opacity="1"/>
<line x1="495.94" y1="148.8" x2="498.98" y2="144.43" stroke="#dcdcdc" stroke-width="0.45" stroke-linecap="butt" opacity="1"/>
<line x1="500.61" y1="147.26" x2="503.41" y2="142.91" stroke="#dcdcdc" stroke-width="0.45" stroke-linecap="butt" opacity="1"/>
<line x1="505.27" y1="145.72" x2="507.85" y2="141.4" stroke="#dcdcdc" stroke-width="0.45" stroke-linecap="butt" opacity="1"/>
<line x1="509.94" y1="144.19" x2="512.29" y2="139.89" stroke="#dcdcdc" stroke-width="0.45" stroke-linecap="butt" opacity="1"/>
<line x1="514.61" y1="142.65" x2="516.72" y2="138.37" stroke="#dcdcdc" stroke-width="0.45" stroke-linecap="butt" opacity="1"/>
<line x1="519.28" y1="141.11" x2="521.16" y2="136.86" stroke="#dcdcdc" stroke-width="0.45" stroke-linecap="butt" opacity="1"/>
<line x1="523.95" y1="139.57" x2="525.59" y2="135.34" stroke="#dcdcdc" stroke-width="0.45" stroke-linecap="butt" opacity="1"/>
<line x1="528.61" y1="138.03" x2="530.03" y2="133.83" stroke="#dcdcdc" stroke-width="0.45" stroke-linecap="butt" opacity="1"/>
<line x1="533.28" y1="136.49" x2="534.46" y2="132.31" stroke="#dcdcdc" stroke-width="0.45" stroke-linecap="butt" opacity="1"/>
<line x1="537.95" y1="134.95" x2="538.9" y2="130.8" stroke="#dcdcdc" stroke-width="0.45" stroke-linecap="butt" opacity="1"/>
<line x1="542.62" y1="133.41" x2="543.34" y2="129.29" stroke="#dcdcdc" stroke-width="0.45" stroke-linecap="butt" opacity="1"/>
<line x1="547.29" y1="131.87" x2="547.77" y2="127.77" stroke="#dcdcdc" stroke-width="0.45" stroke-linecap="butt" opacity="1"/>
<line x1="551.95" y1="130.33" x2="552.21" y2="126.26" stroke="#dcdcdc" stroke-width="0.45" stroke-linecap="butt" opacity="1"/>
<line x1="556.62" y1="128.79" x2="556.64" y2="124.74" stroke="#dcdcdc" stroke-width="0.45" stroke-linecap="butt" opacity="1"/>
<line x1="561.29" y1="127.25" x2="561.08" y2="123.23" stroke="#dcdcdc" stroke-width="0.45" stroke-linecap="butt" opacity="1"/>
<line x1="565.96" y1="125.71" x2="565.51" y2="121.71" stroke="#dcdcdc" stroke-width="0.45" stroke-linecap="butt" opacity="1"/>
<line x1="570.62" y1="124.18" x2="569.95" y2="120.2" stroke="#dcdcdc" stroke-width="0.45" stroke-linecap="butt" opacity="1"/>
<line x1="575.29" y1="122.64" x2="574.39" y2="118.69" stroke="#dcdcdc" stroke-width="0.45" stroke-linecap="butt" opacity="1"/>
<line x1="579.96" y1="121.1" x2="578.82" y2="117.17" stroke="#dcdcdc" stroke-width="0.45" stroke-linecap="butt" opacity="1"/>
<line x1="584.63" y1="119.56" x2="583.26" y2="115.66" stroke="#dcdcdc" stroke-width="0.45" stroke-linecap="butt" opacity="1"/>
<line x1="589.3" y1="118.02" x2="587.69" y2="114.14" stroke="#dcdcdc" stroke-width="0.45" stroke-linecap="butt" opacity="1"/>
<line x1="593.96" y1="116.48" x2="592.13" y2="112.63" stroke="#dcdcdc" stroke-width="0.45" stroke-linecap="butt" opacity="1"/>
<line x1="598.63" y1="114.94" x2="596.56" y2="111.11" stroke="#dcdcdc" stroke-width="0.45" stroke-linecap="butt" opacity="1"/>
<line x1="478" y1="152" x2="602.2" y2="109.6" stroke="#909090" stroke-width="0.7" stroke-linecap="butt" opacity="1"/>
<rect x="599.8" y="104" width="8.2" height="4.7" fill="#c4c4cc" rx="1"/>
<path d="M481.9 151.9 L484.91 149.29 L487.91 146.88 L490.92 144.58 L493.93 142.38 L496.94 140.29 L499.94 138.3 L502.95 136.4 L505.96 134.61 L508.97 132.91 L511.98 131.31 L514.98 129.8 L517.99 128.39 L521 127.06 L524 125.82 L527.01 124.65 L530.02 123.56 L533.03 122.55 L536.03 121.6 L539.04 120.71 L542.05 119.89 L545.06 119.11 L548.07 118.39 L551.07 117.71 L554.08 117.06 L557.09 116.45 L560.1 115.86 L563.1 115.3 L566.11 114.76 L569.12 114.23 L572.12 113.7 L575.13 113.18 L578.14 112.65 L581.15 112.12 L584.15 111.57 L587.16 111 L590.17 110.4 L593.18 109.77 L596.19 109.1 L599.19 108.36 L602.2 107.5" fill="none" stroke="url(#cg2)" stroke-width="3.3" stroke-linecap="round" stroke-linejoin="round"/>
<text x="456.2" y="145.5" font-family='"Liberation Sans", sans-serif' font-size="6.8" font-weight="normal" text-anchor="middle" fill="#3a3a3a" stroke="#3a3a3a" stroke-width="0.22">20</text>
<text x="470.4" y="167.5" font-family='"Liberation Sans", sans-serif' font-size="6.8" font-weight="normal" text-anchor="middle" fill="#3a3a3a" stroke="#3a3a3a" stroke-width="0.22">50</text>
<text x="483.9" y="169.2" font-family='"Liberation Sans", sans-serif' font-size="6.8" font-weight="normal" text-anchor="middle" fill="#3a3a3a" stroke="#3a3a3a" stroke-width="0.22">0</text>
<text x="518.3" y="157.5" font-family='"Liberation Sans", sans-serif' font-size="6.8" font-weight="normal" text-anchor="middle" fill="#3a3a3a" stroke="#3a3a3a" stroke-width="0.22">1</text>
<text x="549.5" y="146.5" font-family='"Liberation Sans", sans-serif' font-size="6.8" font-weight="normal" text-anchor="middle" fill="#3a3a3a" stroke="#3a3a3a" stroke-width="0.22">2</text>
<text x="560.8" y="158.5" font-family='"Liberation Sans", sans-serif' font-size="6.5" font-weight="normal" text-anchor="middle" fill="#3a3a3a" stroke="#3a3a3a" stroke-width="0.22">x10<tspan dy="-2.5" font-size="4.5">3</tspan><tspan dy="2.5"> nm</tspan></text>
<text x="579.3" y="134.8" font-family='"Liberation Sans", sans-serif' font-size="6.8" font-weight="normal" text-anchor="middle" fill="#3a3a3a" stroke="#3a3a3a" stroke-width="0.22">3</text>
<text x="606.2" y="124.9" font-family='"Liberation Sans", sans-serif' font-size="6.8" font-weight="normal" text-anchor="middle" fill="#3a3a3a" stroke="#3a3a3a" stroke-width="0.22">4</text>
<text x="459.7" y="181.5" font-family='"Liberation Sans", sans-serif' font-size="6.8" font-weight="normal" text-anchor="middle" fill="#3a3a3a" stroke="#3a3a3a" stroke-width="0.22">nm</text>
<line x1="469.1" y1="203.4" x2="459.4" y2="200.1" stroke="#6aa070" stroke-width="1.2" stroke-linecap="butt" opacity="1"/>
<line x1="469.1" y1="203.4" x2="472" y2="194.6" stroke="#4a5a80" stroke-width="1.2" stroke-linecap="butt" opacity="1"/>
<line x1="469.1" y1="203.4" x2="477.5" y2="201.3" stroke="#a03060" stroke-width="1.2" stroke-linecap="butt" opacity="1"/>
<text x="455.5" y="201" font-family='"Liberation Sans", sans-serif' font-size="6.6" font-weight="normal" text-anchor="middle" fill="#505050" stroke="#505050" stroke-width="0.22">y</text>
<text x="473.7" y="190.8" font-family='"Liberation Sans", sans-serif' font-size="6.2" font-weight="normal" text-anchor="middle" fill="#404040" stroke="#404040" stroke-width="0.22">z</text>
<text x="479.1" y="202.4" font-family='"Liberation Sans", sans-serif' font-size="5.6" font-weight="normal" text-anchor="middle" fill="#604050" stroke="#604050" stroke-width="0.22">x</text>
<g transform="translate(115.1 272) scale(1 1.06)">
<text x="0" y="0" font-family='"Liberation Serif", serif' font-size="14.2" font-weight="bold" text-anchor="middle" fill="#000">(D)</text>
</g>
<text x="38.3" y="287.4" font-family='"Liberation Sans", sans-serif' font-size="7.6" font-weight="normal" text-anchor="start" fill="#3a3a3a" stroke="#3a3a3a" stroke-width="0.22" textLength="138.5" lengthAdjust="spacingAndGlyphs">Load case 1 &#160;&#160;Line: Total displacement (nm)</text>
<rect x="219" y="279" width="7.6" height="5" rx="1.6" fill="#33496a"/>
<path d="M221.2 279.9 l3 1.6 l-3 1.6z" fill="#cfe0f4"/>
<path d="M177.4 303.7 l5.6 0 l-2.8 -4.76z" fill="#000"/>
<text x="184.9" y="305.3" font-family='"Liberation Sans", sans-serif' font-size="7.2" font-weight="normal" text-anchor="start" fill="#404040" stroke="#404040" stroke-width="0.22" textLength="28.4" lengthAdjust="spacingAndGlyphs">1.65&#215;10</text>
<text x="213.6" y="301.9" font-family='"Liberation Sans", sans-serif' font-size="4.4" font-weight="normal" text-anchor="start" fill="#404040" stroke="#404040" stroke-width="0.22" textLength="4.1" lengthAdjust="spacingAndGlyphs">-9</text>
<text x="192.3" y="313.8" font-family='"Liberation Sans", sans-serif' font-size="7.2" font-weight="normal" text-anchor="start" fill="#404040" stroke="#404040" stroke-width="0.22" textLength="11.9" lengthAdjust="spacingAndGlyphs">&#215;10</text>
<text x="204.5" y="310.4" font-family='"Liberation Sans", sans-serif' font-size="4.4" font-weight="normal" text-anchor="start" fill="#404040" stroke="#404040" stroke-width="0.22" textLength="5.3" lengthAdjust="spacingAndGlyphs">-4</text>
<rect x="184.6" y="318.6" width="7.7" height="123" fill="url(#cb)"/>
<rect x="185" y="319" width="6.9" height="122.2" fill="none" stroke="#000" stroke-opacity="0.42" stroke-width="0.8"/>
<text x="196" y="324.9" font-family='"Liberation Sans", sans-serif' font-size="7" font-weight="normal" text-anchor="start" fill="#505050" stroke="#505050" stroke-width="0.22">16</text>
<line x1="184.6" y1="322.4" x2="185.8" y2="322.4" stroke="#333" stroke-width="0.6" stroke-linecap="butt" opacity="0.6"/>
<line x1="191.1" y1="322.4" x2="192.3" y2="322.4" stroke="#333" stroke-width="0.6" stroke-linecap="butt" opacity="0.6"/>
<text x="196" y="339.75" font-family='"Liberation Sans", sans-serif' font-size="7" font-weight="normal" text-anchor="start" fill="#505050" stroke="#505050" stroke-width="0.22">14</text>
<line x1="184.6" y1="337.25" x2="185.8" y2="337.25" stroke="#333" stroke-width="0.6" stroke-linecap="butt" opacity="0.6"/>
<line x1="191.1" y1="337.25" x2="192.3" y2="337.25" stroke="#333" stroke-width="0.6" stroke-linecap="butt" opacity="0.6"/>
<text x="196" y="354.6" font-family='"Liberation Sans", sans-serif' font-size="7" font-weight="normal" text-anchor="start" fill="#505050" stroke="#505050" stroke-width="0.22">12</text>
<line x1="184.6" y1="352.1" x2="185.8" y2="352.1" stroke="#333" stroke-width="0.6" stroke-linecap="butt" opacity="0.6"/>
<line x1="191.1" y1="352.1" x2="192.3" y2="352.1" stroke="#333" stroke-width="0.6" stroke-linecap="butt" opacity="0.6"/>
<text x="196" y="369.45" font-family='"Liberation Sans", sans-serif' font-size="7" font-weight="normal" text-anchor="start" fill="#505050" stroke="#505050" stroke-width="0.22">10</text>
<line x1="184.6" y1="366.95" x2="185.8" y2="366.95" stroke="#333" stroke-width="0.6" stroke-linecap="butt" opacity="0.6"/>
<line x1="191.1" y1="366.95" x2="192.3" y2="366.95" stroke="#333" stroke-width="0.6" stroke-linecap="butt" opacity="0.6"/>
<text x="196" y="384.3" font-family='"Liberation Sans", sans-serif' font-size="7" font-weight="normal" text-anchor="start" fill="#505050" stroke="#505050" stroke-width="0.22">8</text>
<line x1="184.6" y1="381.8" x2="185.8" y2="381.8" stroke="#333" stroke-width="0.6" stroke-linecap="butt" opacity="0.6"/>
<line x1="191.1" y1="381.8" x2="192.3" y2="381.8" stroke="#333" stroke-width="0.6" stroke-linecap="butt" opacity="0.6"/>
<text x="196" y="399.15" font-family='"Liberation Sans", sans-serif' font-size="7" font-weight="normal" text-anchor="start" fill="#505050" stroke="#505050" stroke-width="0.22">6</text>
<line x1="184.6" y1="396.65" x2="185.8" y2="396.65" stroke="#333" stroke-width="0.6" stroke-linecap="butt" opacity="0.6"/>
<line x1="191.1" y1="396.65" x2="192.3" y2="396.65" stroke="#333" stroke-width="0.6" stroke-linecap="butt" opacity="0.6"/>
<text x="196" y="414" font-family='"Liberation Sans", sans-serif' font-size="7" font-weight="normal" text-anchor="start" fill="#505050" stroke="#505050" stroke-width="0.22">4</text>
<line x1="184.6" y1="411.5" x2="185.8" y2="411.5" stroke="#333" stroke-width="0.6" stroke-linecap="butt" opacity="0.6"/>
<line x1="191.1" y1="411.5" x2="192.3" y2="411.5" stroke="#333" stroke-width="0.6" stroke-linecap="butt" opacity="0.6"/>
<text x="196" y="428.85" font-family='"Liberation Sans", sans-serif' font-size="7" font-weight="normal" text-anchor="start" fill="#505050" stroke="#505050" stroke-width="0.22">2</text>
<line x1="184.6" y1="426.35" x2="185.8" y2="426.35" stroke="#333" stroke-width="0.6" stroke-linecap="butt" opacity="0.6"/>
<line x1="191.1" y1="426.35" x2="192.3" y2="426.35" stroke="#333" stroke-width="0.6" stroke-linecap="butt" opacity="0.6"/>
<text x="196" y="443.7" font-family='"Liberation Sans", sans-serif' font-size="7" font-weight="normal" text-anchor="start" fill="#505050" stroke="#505050" stroke-width="0.22">0</text>
<line x1="184.6" y1="441.2" x2="185.8" y2="441.2" stroke="#333" stroke-width="0.6" stroke-linecap="butt" opacity="0.6"/>
<line x1="191.1" y1="441.2" x2="192.3" y2="441.2" stroke="#333" stroke-width="0.6" stroke-linecap="butt" opacity="0.6"/>
<path d="M177.8 448.4 l5.2 0 l-2.6 4.6z" fill="#000"/>
<text x="185.6" y="453.2" font-family='"Liberation Sans", sans-serif' font-size="7" font-weight="normal" text-anchor="start" fill="#606060" stroke="#606060" stroke-width="0.22">0</text>
<line x1="28.8" y1="381.8" x2="145.9" y2="363.1" stroke="#cdcdcd" stroke-width="5" stroke-linecap="butt" opacity="1"/>
<line x1="28.8" y1="382.3" x2="145.9" y2="363.6" stroke="#a0a0a0" stroke-width="0.8" stroke-linecap="butt" opacity="0.7"/>
<line x1="32" y1="396" x2="149.2" y2="378.5" stroke="#cdcdcd" stroke-width="5" stroke-linecap="butt" opacity="1"/>
<line x1="32" y1="396.5" x2="149.2" y2="379" stroke="#a0a0a0" stroke-width="0.8" stroke-linecap="butt" opacity="0.7"/>
<rect x="151.4" y="363" width="5.4" height="9" fill="#c4c4cc" rx="1"/>
<path d="M35.3 381.3 L38.15 381.25 L40.99 381.33 L43.84 381.47 L46.69 381.65 L49.54 381.86 L52.38 382.08 L55.23 382.31 L58.08 382.53 L60.93 382.76 L63.77 382.96 L66.62 383.15 L69.47 383.3 L72.32 383.42 L75.16 383.5 L78.01 383.54 L80.86 383.53 L83.71 383.45 L86.55 383.32 L89.4 383.13 L92.25 382.87 L95.1 382.54 L97.94 382.13 L100.79 381.66 L103.64 381.11 L106.49 380.49 L109.33 379.79 L112.18 379.02 L115.03 378.19 L117.88 377.29 L120.72 376.33 L123.57 375.31 L126.42 374.24 L129.27 373.12 L132.11 371.97 L134.96 370.79 L137.81 369.59 L140.66 368.38 L143.5 367.17 L146.35 365.99 L149.2 364.9" fill="none" stroke="url(#cg3)" stroke-width="2.8" stroke-linecap="round" stroke-linejoin="round"/>
<text x="18.6" y="380.7" font-family='"Liberation Sans", sans-serif' font-size="6.8" font-weight="normal" text-anchor="middle" fill="#3a3a3a" stroke="#3a3a3a" stroke-width="0.22">-40</text>
<text x="27" y="405.8" font-family='"Liberation Sans", sans-serif' font-size="6.8" font-weight="normal" text-anchor="middle" fill="#3a3a3a" stroke="#3a3a3a" stroke-width="0.22">-40</text>
<text x="40" y="408.5" font-family='"Liberation Sans", sans-serif' font-size="6.8" font-weight="normal" text-anchor="middle" fill="#3a3a3a" stroke="#3a3a3a" stroke-width="0.22">0</text>
<text x="71.8" y="403.5" font-family='"Liberation Sans", sans-serif' font-size="6.8" font-weight="normal" text-anchor="middle" fill="#3a3a3a" stroke="#3a3a3a" stroke-width="0.22">1</text>
<text x="101" y="398.3" font-family='"Liberation Sans", sans-serif' font-size="6.8" font-weight="normal" text-anchor="middle" fill="#3a3a3a" stroke="#3a3a3a" stroke-width="0.22">2</text>
<text x="109" y="411.9" font-family='"Liberation Sans", sans-serif' font-size="6.5" font-weight="normal" text-anchor="middle" fill="#3a3a3a" stroke="#3a3a3a" stroke-width="0.22">x10<tspan dy="-2.5" font-size="4.5">3</tspan><tspan dy="2.5"> nm</tspan></text>
<text x="128" y="394.3" font-family='"Liberation Sans", sans-serif' font-size="6.8" font-weight="normal" text-anchor="middle" fill="#3a3a3a" stroke="#3a3a3a" stroke-width="0.22">3</text>
<text x="152.4" y="388.9" font-family='"Liberation Sans", sans-serif' font-size="6.8" font-weight="normal" text-anchor="middle" fill="#3a3a3a" stroke="#3a3a3a" stroke-width="0.22">4</text>
<text x="15.2" y="418" font-family='"Liberation Sans", sans-serif' font-size="6.8" font-weight="normal" text-anchor="middle" fill="#3a3a3a" stroke="#3a3a3a" stroke-width="0.22">nm</text>
<line x1="26.9" y1="450.2" x2="18.5" y2="446.2" stroke="#6aa070" stroke-width="1.2" stroke-linecap="butt" opacity="1"/>
<line x1="26.9" y1="450.2" x2="32" y2="441.4" stroke="#4a5a80" stroke-width="1.2" stroke-linecap="butt" opacity="1"/>
<line x1="26.9" y1="450.2" x2="34.9" y2="449.1" stroke="#a03060" stroke-width="1.2" stroke-linecap="butt" opacity="1"/>
<text x="14.9" y="445.8" font-family='"Liberation Sans", sans-serif' font-size="6.6" font-weight="normal" text-anchor="middle" fill="#505050" stroke="#505050" stroke-width="0.22">y</text>
<text x="34.2" y="438.2" font-family='"Liberation Sans", sans-serif' font-size="6.2" font-weight="normal" text-anchor="middle" fill="#404040" stroke="#404040" stroke-width="0.22">z</text>
<text x="36.9" y="450.2" font-family='"Liberation Sans", sans-serif' font-size="5.6" font-weight="normal" text-anchor="middle" fill="#604050" stroke="#604050" stroke-width="0.22">x</text>
<g transform="translate(335.5 271.5) scale(1 1.06)">
<text x="0" y="0" font-family='"Liberation Serif", serif' font-size="14.2" font-weight="bold" text-anchor="middle" fill="#000">(E)</text>
</g>
<text x="266.2" y="286.7" font-family='"Liberation Sans", sans-serif' font-size="7.6" font-weight="normal" text-anchor="start" fill="#3a3a3a" stroke="#3a3a3a" stroke-width="0.22" textLength="128.6" lengthAdjust="spacingAndGlyphs">Load case 1 &#160;&#160;Line: Total displacement (nm)</text>
<rect x="434.3" y="278" width="7.2" height="5.6" rx="1.6" fill="#33496a"/>
<path d="M436.5 279.2 l3 1.6 l-3 1.6z" fill="#cfe0f4"/>
<path d="M395.7 301.6 l5.6 0 l-2.8 -4.76z" fill="#000"/>
<text x="402.7" y="303.2" font-family='"Liberation Sans", sans-serif' font-size="7.2" font-weight="normal" text-anchor="start" fill="#404040" stroke="#404040" stroke-width="0.22" textLength="25.8" lengthAdjust="spacingAndGlyphs">6.02&#215;10</text>
<text x="428.8" y="299.8" font-family='"Liberation Sans", sans-serif' font-size="4.4" font-weight="normal" text-anchor="start" fill="#404040" stroke="#404040" stroke-width="0.22" textLength="4.5" lengthAdjust="spacingAndGlyphs">-8</text>
<text x="409.7" y="310.8" font-family='"Liberation Sans", sans-serif' font-size="7.2" font-weight="normal" text-anchor="start" fill="#404040" stroke="#404040" stroke-width="0.22" textLength="10.9" lengthAdjust="spacingAndGlyphs">&#215;10</text>
<text x="420.9" y="307.4" font-family='"Liberation Sans", sans-serif' font-size="4.4" font-weight="normal" text-anchor="start" fill="#404040" stroke="#404040" stroke-width="0.22" textLength="4.6" lengthAdjust="spacingAndGlyphs">-8</text>
<rect x="402" y="315" width="7.5" height="114.6" fill="url(#cb)"/>
<rect x="402.4" y="315.4" width="6.7" height="113.8" fill="none" stroke="#000" stroke-opacity="0.42" stroke-width="0.8"/>
<text x="412.7" y="318.1" font-family='"Liberation Sans", sans-serif' font-size="7" font-weight="normal" text-anchor="start" fill="#505050" stroke="#505050" stroke-width="0.22">6</text>
<line x1="402" y1="315.6" x2="403.2" y2="315.6" stroke="#333" stroke-width="0.6" stroke-linecap="butt" opacity="0.6"/>
<line x1="408.3" y1="315.6" x2="409.5" y2="315.6" stroke="#333" stroke-width="0.6" stroke-linecap="butt" opacity="0.6"/>
<text x="412.7" y="337.1" font-family='"Liberation Sans", sans-serif' font-size="7" font-weight="normal" text-anchor="start" fill="#505050" stroke="#505050" stroke-width="0.22">5</text>
<line x1="402" y1="334.6" x2="403.2" y2="334.6" stroke="#333" stroke-width="0.6" stroke-linecap="butt" opacity="0.6"/>
<line x1="408.3" y1="334.6" x2="409.5" y2="334.6" stroke="#333" stroke-width="0.6" stroke-linecap="butt" opacity="0.6"/>
<text x="412.7" y="356.1" font-family='"Liberation Sans", sans-serif' font-size="7" font-weight="normal" text-anchor="start" fill="#505050" stroke="#505050" stroke-width="0.22">4</text>
<line x1="402" y1="353.6" x2="403.2" y2="353.6" stroke="#333" stroke-width="0.6" stroke-linecap="butt" opacity="0.6"/>
<line x1="408.3" y1="353.6" x2="409.5" y2="353.6" stroke="#333" stroke-width="0.6" stroke-linecap="butt" opacity="0.6"/>
<text x="412.7" y="375.1" font-family='"Liberation Sans", sans-serif' font-size="7" font-weight="normal" text-anchor="start" fill="#505050" stroke="#505050" stroke-width="0.22">3</text>
<line x1="402" y1="372.6" x2="403.2" y2="372.6" stroke="#333" stroke-width="0.6" stroke-linecap="butt" opacity="0.6"/>
<line x1="408.3" y1="372.6" x2="409.5" y2="372.6" stroke="#333" stroke-width="0.6" stroke-linecap="butt" opacity="0.6"/>
<text x="412.7" y="394.1" font-family='"Liberation Sans", sans-serif' font-size="7" font-weight="normal" text-anchor="start" fill="#505050" stroke="#505050" stroke-width="0.22">2</text>
<line x1="402" y1="391.6" x2="403.2" y2="391.6" stroke="#333" stroke-width="0.6" stroke-linecap="butt" opacity="0.6"/>
<line x1="408.3" y1="391.6" x2="409.5" y2="391.6" stroke="#333" stroke-width="0.6" stroke-linecap="butt" opacity="0.6"/>
<text x="412.7" y="413.1" font-family='"Liberation Sans", sans-serif' font-size="7" font-weight="normal" text-anchor="start" fill="#505050" stroke="#505050" stroke-width="0.22">1</text>
<line x1="402" y1="410.6" x2="403.2" y2="410.6" stroke="#333" stroke-width="0.6" stroke-linecap="butt" opacity="0.6"/>
<line x1="408.3" y1="410.6" x2="409.5" y2="410.6" stroke="#333" stroke-width="0.6" stroke-linecap="butt" opacity="0.6"/>
<text x="412.7" y="432.1" font-family='"Liberation Sans", sans-serif' font-size="7" font-weight="normal" text-anchor="start" fill="#505050" stroke="#505050" stroke-width="0.22">0</text>
<line x1="402" y1="429.6" x2="403.2" y2="429.6" stroke="#333" stroke-width="0.6" stroke-linecap="butt" opacity="0.6"/>
<line x1="408.3" y1="429.6" x2="409.5" y2="429.6" stroke="#333" stroke-width="0.6" stroke-linecap="butt" opacity="0.6"/>
<path d="M396.4 435.4 l5.2 0 l-2.6 4.6z" fill="#000"/>
<text x="404.2" y="440.2" font-family='"Liberation Sans", sans-serif' font-size="7" font-weight="normal" text-anchor="start" fill="#606060" stroke="#606060" stroke-width="0.22">0</text>
<line x1="254.2" y1="388.5" x2="365.6" y2="345.2" stroke="#cdcdcd" stroke-width="5" stroke-linecap="butt" opacity="1"/>
<line x1="254.2" y1="389" x2="365.6" y2="345.7" stroke="#a0a0a0" stroke-width="0.8" stroke-linecap="butt" opacity="0.7"/>
<line x1="265.4" y1="400" x2="370.7" y2="356.5" stroke="#cdcdcd" stroke-width="4.5" stroke-linecap="butt" opacity="1"/>
<line x1="265.4" y1="400.45" x2="370.7" y2="356.95" stroke="#a0a0a0" stroke-width="0.8" stroke-linecap="butt" opacity="0.7"/>
<rect x="371.7" y="345" width="7.1" height="8.4" fill="#c4c4cc" rx="1"/>
<path d="M266.6 395.2 L269.31 392.82 L272.01 390.75 L274.72 388.78 L277.42 386.89 L280.12 385.05 L282.83 383.28 L285.54 381.55 L288.24 379.88 L290.95 378.27 L293.65 376.7 L296.36 375.19 L299.06 373.73 L301.77 372.32 L304.47 370.97 L307.18 369.67 L309.88 368.43 L312.59 367.24 L315.29 366.1 L318 365.01 L320.7 363.98 L323.41 362.99 L326.11 362.06 L328.81 361.18 L331.52 360.35 L334.23 359.56 L336.93 358.81 L339.63 358.11 L342.34 357.46 L345.05 356.84 L347.75 356.26 L350.46 355.72 L353.16 355.21 L355.87 354.73 L358.57 354.29 L361.27 353.87 L363.98 353.49 L366.69 353.13 L369.39 352.82 L372.1 352.55 L374.8 352.4" fill="none" stroke="url(#cg4)" stroke-width="3.1" stroke-linecap="round" stroke-linejoin="round"/>
<text x="245.7" y="389.1" font-family='"Liberation Sans", sans-serif' font-size="6.8" font-weight="normal" text-anchor="middle" fill="#3a3a3a" stroke="#3a3a3a" stroke-width="0.22">40</text>
<text x="257.4" y="409.9" font-family='"Liberation Sans", sans-serif' font-size="6.8" font-weight="normal" text-anchor="middle" fill="#3a3a3a" stroke="#3a3a3a" stroke-width="0.22">40</text>
<text x="267.2" y="410.9" font-family='"Liberation Sans", sans-serif' font-size="6.8" font-weight="normal" text-anchor="middle" fill="#3a3a3a" stroke="#3a3a3a" stroke-width="0.22">0</text>
<text x="298.8" y="399.5" font-family='"Liberation Sans", sans-serif' font-size="6.8" font-weight="normal" text-anchor="middle" fill="#3a3a3a" stroke="#3a3a3a" stroke-width="0.22">1</text>
<text x="326.4" y="388.1" font-family='"Liberation Sans", sans-serif' font-size="6.8" font-weight="normal" text-anchor="middle" fill="#3a3a3a" stroke="#3a3a3a" stroke-width="0.22">2</text>
<text x="334.6" y="399.5" font-family='"Liberation Sans", sans-serif' font-size="6.5" font-weight="normal" text-anchor="middle" fill="#3a3a3a" stroke="#3a3a3a" stroke-width="0.22">x10<tspan dy="-2.5" font-size="4.5">3</tspan><tspan dy="2.5"> nm</tspan></text>
<text x="352.5" y="376.7" font-family='"Liberation Sans", sans-serif' font-size="6.8" font-weight="normal" text-anchor="middle" fill="#3a3a3a" stroke="#3a3a3a" stroke-width="0.22">3</text>
<text x="376.3" y="367" font-family='"Liberation Sans", sans-serif' font-size="6.8" font-weight="normal" text-anchor="middle" fill="#3a3a3a" stroke="#3a3a3a" stroke-width="0.22">4</text>
<text x="246.6" y="419.7" font-family='"Liberation Sans", sans-serif' font-size="6.8" font-weight="normal" text-anchor="middle" fill="#3a3a3a" stroke="#3a3a3a" stroke-width="0.22">nm</text>
<line x1="256.5" y1="438.1" x2="247.8" y2="434.1" stroke="#6aa070" stroke-width="1.2" stroke-linecap="butt" opacity="1"/>
<line x1="256.5" y1="438.1" x2="258.7" y2="429.3" stroke="#4a5a80" stroke-width="1.2" stroke-linecap="butt" opacity="1"/>
<line x1="256.5" y1="438.1" x2="263.1" y2="435.5" stroke="#a03060" stroke-width="1.2" stroke-linecap="butt" opacity="1"/>
<text x="244.1" y="434.5" font-family='"Liberation Sans", sans-serif' font-size="6.6" font-weight="normal" text-anchor="middle" fill="#505050" stroke="#505050" stroke-width="0.22">y</text>
<text x="260.9" y="426.4" font-family='"Liberation Sans", sans-serif' font-size="6.2" font-weight="normal" text-anchor="middle" fill="#404040" stroke="#404040" stroke-width="0.22">z</text>
<text x="264.5" y="437.1" font-family='"Liberation Sans", sans-serif' font-size="5.6" font-weight="normal" text-anchor="middle" fill="#604050" stroke="#604050" stroke-width="0.22">x</text>
<g transform="translate(559 271.5) scale(1 1.06)">
<text x="0" y="0" font-family='"Liberation Serif", serif' font-size="14.2" font-weight="bold" text-anchor="middle" fill="#000">(F)</text>
</g>
<text x="480.3" y="287.7" font-family='"Liberation Sans", sans-serif' font-size="7.6" font-weight="normal" text-anchor="start" fill="#3a3a3a" stroke="#3a3a3a" stroke-width="0.22" textLength="147.9" lengthAdjust="spacingAndGlyphs">Load case 1 &#160;&#160;Line: Total displacement (nm)</text>
<rect x="672.8" y="278.8" width="7.4" height="5.9" rx="1.6" fill="#33496a"/>
<path d="M675 280.15 l3 1.6 l-3 1.6z" fill="#cfe0f4"/>
<path d="M628.1 305.2 l5.6 0 l-2.8 -4.76z" fill="#000"/>
<text x="636.5" y="306.8" font-family='"Liberation Sans", sans-serif' font-size="7.2" font-weight="normal" text-anchor="start" fill="#404040" stroke="#404040" stroke-width="0.22" textLength="29.3" lengthAdjust="spacingAndGlyphs">7.63&#215;10</text>
<text x="666.1" y="303.4" font-family='"Liberation Sans", sans-serif' font-size="4.4" font-weight="normal" text-anchor="start" fill="#404040" stroke="#404040" stroke-width="0.22" textLength="4.5" lengthAdjust="spacingAndGlyphs">-8</text>
<text x="643.9" y="316" font-family='"Liberation Sans", sans-serif' font-size="7.2" font-weight="normal" text-anchor="start" fill="#404040" stroke="#404040" stroke-width="0.22" textLength="12.7" lengthAdjust="spacingAndGlyphs">&#215;10</text>
<text x="656.9" y="312.6" font-family='"Liberation Sans", sans-serif' font-size="4.4" font-weight="normal" text-anchor="start" fill="#404040" stroke="#404040" stroke-width="0.22" textLength="4.9" lengthAdjust="spacingAndGlyphs">-8</text>
<rect x="635.6" y="320.8" width="8" height="132.6" fill="url(#cb)"/>
<rect x="636" y="321.2" width="7.2" height="131.8" fill="none" stroke="#000" stroke-opacity="0.42" stroke-width="0.8"/>
<text x="648.4" y="333.9" font-family='"Liberation Sans", sans-serif' font-size="7" font-weight="normal" text-anchor="start" fill="#505050" stroke="#505050" stroke-width="0.22">7</text>
<line x1="635.6" y1="331.4" x2="636.8" y2="331.4" stroke="#333" stroke-width="0.6" stroke-linecap="butt" opacity="0.6"/>
<line x1="642.4" y1="331.4" x2="643.6" y2="331.4" stroke="#333" stroke-width="0.6" stroke-linecap="butt" opacity="0.6"/>
<text x="648.4" y="351.17" font-family='"Liberation Sans", sans-serif' font-size="7" font-weight="normal" text-anchor="start" fill="#505050" stroke="#505050" stroke-width="0.22">6</text>
<line x1="635.6" y1="348.67" x2="636.8" y2="348.67" stroke="#333" stroke-width="0.6" stroke-linecap="butt" opacity="0.6"/>
<line x1="642.4" y1="348.67" x2="643.6" y2="348.67" stroke="#333" stroke-width="0.6" stroke-linecap="butt" opacity="0.6"/>
<text x="648.4" y="368.44" font-family='"Liberation Sans", sans-serif' font-size="7" font-weight="normal" text-anchor="start" fill="#505050" stroke="#505050" stroke-width="0.22">5</text>
<line x1="635.6" y1="365.94" x2="636.8" y2="365.94" stroke="#333" stroke-width="0.6" stroke-linecap="butt" opacity="0.6"/>
<line x1="642.4" y1="365.94" x2="643.6" y2="365.94" stroke="#333" stroke-width="0.6" stroke-linecap="butt" opacity="0.6"/>
<text x="648.4" y="385.71" font-family='"Liberation Sans", sans-serif' font-size="7" font-weight="normal" text-anchor="start" fill="#505050" stroke="#505050" stroke-width="0.22">4</text>
<line x1="635.6" y1="383.21" x2="636.8" y2="383.21" stroke="#333" stroke-width="0.6" stroke-linecap="butt" opacity="0.6"/>
<line x1="642.4" y1="383.21" x2="643.6" y2="383.21" stroke="#333" stroke-width="0.6" stroke-linecap="butt" opacity="0.6"/>
<text x="648.4" y="402.99" font-family='"Liberation Sans", sans-serif' font-size="7" font-weight="normal" text-anchor="start" fill="#505050" stroke="#505050" stroke-width="0.22">3</text>
<line x1="635.6" y1="400.49" x2="636.8" y2="400.49" stroke="#333" stroke-width="0.6" stroke-linecap="butt" opacity="0.6"/>
<line x1="642.4" y1="400.49" x2="643.6" y2="400.49" stroke="#333" stroke-width="0.6" stroke-linecap="butt" opacity="0.6"/>
<text x="648.4" y="420.26" font-family='"Liberation Sans", sans-serif' font-size="7" font-weight="normal" text-anchor="start" fill="#505050" stroke="#505050" stroke-width="0.22">2</text>
<line x1="635.6" y1="417.76" x2="636.8" y2="417.76" stroke="#333" stroke-width="0.6" stroke-linecap="butt" opacity="0.6"/>
<line x1="642.4" y1="417.76" x2="643.6" y2="417.76" stroke="#333" stroke-width="0.6" stroke-linecap="butt" opacity="0.6"/>
<text x="648.4" y="437.53" font-family='"Liberation Sans", sans-serif' font-size="7" font-weight="normal" text-anchor="start" fill="#505050" stroke="#505050" stroke-width="0.22">1</text>
<line x1="635.6" y1="435.03" x2="636.8" y2="435.03" stroke="#333" stroke-width="0.6" stroke-linecap="butt" opacity="0.6"/>
<line x1="642.4" y1="435.03" x2="643.6" y2="435.03" stroke="#333" stroke-width="0.6" stroke-linecap="butt" opacity="0.6"/>
<text x="648.4" y="454.8" font-family='"Liberation Sans", sans-serif' font-size="7" font-weight="normal" text-anchor="start" fill="#505050" stroke="#505050" stroke-width="0.22">0</text>
<line x1="635.6" y1="452.3" x2="636.8" y2="452.3" stroke="#333" stroke-width="0.6" stroke-linecap="butt" opacity="0.6"/>
<line x1="642.4" y1="452.3" x2="643.6" y2="452.3" stroke="#333" stroke-width="0.6" stroke-linecap="butt" opacity="0.6"/>
<path d="M628 459.4 l5.2 0 l-2.6 4.6z" fill="#000"/>
<text x="635.8" y="464.2" font-family='"Liberation Sans", sans-serif' font-size="7" font-weight="normal" text-anchor="start" fill="#606060" stroke="#606060" stroke-width="0.22">0</text>
<line x1="464.9" y1="419.4" x2="592.7" y2="347.4" stroke="#b4b4b8" stroke-width="3.2" stroke-linecap="butt" opacity="1"/>
<line x1="464.9" y1="420.2" x2="592.7" y2="348.2" stroke="#8c8c90" stroke-width="0.9" stroke-linecap="butt" opacity="0.8"/>
<polygon points="474.2,430 608.8,357.3 606,347.5 480,421" fill="#efefef" stroke="#c8c8c8" stroke-width="0.7"/>
<line x1="479.01" y1="427.4" x2="483.3" y2="418.38" stroke="#dcdcdc" stroke-width="0.45" stroke-linecap="butt" opacity="1"/>
<line x1="483.81" y1="424.81" x2="487.8" y2="415.75" stroke="#dcdcdc" stroke-width="0.45" stroke-linecap="butt" opacity="1"/>
<line x1="488.62" y1="422.21" x2="492.3" y2="413.12" stroke="#dcdcdc" stroke-width="0.45" stroke-linecap="butt" opacity="1"/>
<line x1="493.43" y1="419.61" x2="496.8" y2="410.5" stroke="#dcdcdc" stroke-width="0.45" stroke-linecap="butt" opacity="1"/>
<line x1="498.24" y1="417.02" x2="501.3" y2="407.88" stroke="#dcdcdc" stroke-width="0.45" stroke-linecap="butt" opacity="1"/>
<line x1="503.04" y1="414.42" x2="505.8" y2="405.25" stroke="#dcdcdc" stroke-width="0.45" stroke-linecap="butt" opacity="1"/>
<line x1="507.85" y1="411.82" x2="510.3" y2="402.62" stroke="#dcdcdc" stroke-width="0.45" stroke-linecap="butt" opacity="1"/>
<line x1="512.66" y1="409.23" x2="514.8" y2="400" stroke="#dcdcdc" stroke-width="0.45" stroke-linecap="butt" opacity="1"/>
<line x1="517.46" y1="406.63" x2="519.3" y2="397.38" stroke="#dcdcdc" stroke-width="0.45" stroke-linecap="butt" opacity="1"/>
<line x1="522.27" y1="404.04" x2="523.8" y2="394.75" stroke="#dcdcdc" stroke-width="0.45" stroke-linecap="butt" opacity="1"/>
<line x1="527.08" y1="401.44" x2="528.3" y2="392.12" stroke="#dcdcdc" stroke-width="0.45" stroke-linecap="butt" opacity="1"/>
<line x1="531.89" y1="398.84" x2="532.8" y2="389.5" stroke="#dcdcdc" stroke-width="0.45" stroke-linecap="butt" opacity="1"/>
<line x1="536.69" y1="396.25" x2="537.3" y2="386.88" stroke="#dcdcdc" stroke-width="0.45" stroke-linecap="butt" opacity="1"/>
<line x1="541.5" y1="393.65" x2="541.8" y2="384.25" stroke="#dcdcdc" stroke-width="0.45" stroke-linecap="butt" opacity="1"/>
<line x1="546.31" y1="391.05" x2="546.3" y2="381.62" stroke="#dcdcdc" stroke-width="0.45" stroke-linecap="butt" opacity="1"/>
<line x1="551.11" y1="388.46" x2="550.8" y2="379" stroke="#dcdcdc" stroke-width="0.45" stroke-linecap="butt" opacity="1"/>
<line x1="555.92" y1="385.86" x2="555.3" y2="376.38" stroke="#dcdcdc" stroke-width="0.45" stroke-linecap="butt" opacity="1"/>
<line x1="560.73" y1="383.26" x2="559.8" y2="373.75" stroke="#dcdcdc" stroke-width="0.45" stroke-linecap="butt" opacity="1"/>
<line x1="565.54" y1="380.67" x2="564.3" y2="371.12" stroke="#dcdcdc" stroke-width="0.45" stroke-linecap="butt" opacity="1"/>
<line x1="570.34" y1="378.07" x2="568.8" y2="368.5" stroke="#dcdcdc" stroke-width="0.45" stroke-linecap="butt" opacity="1"/>
<line x1="575.15" y1="375.48" x2="573.3" y2="365.88" stroke="#dcdcdc" stroke-width="0.45" stroke-linecap="butt" opacity="1"/>
<line x1="579.96" y1="372.88" x2="577.8" y2="363.25" stroke="#dcdcdc" stroke-width="0.45" stroke-linecap="butt" opacity="1"/>
<line x1="584.76" y1="370.28" x2="582.3" y2="360.62" stroke="#dcdcdc" stroke-width="0.45" stroke-linecap="butt" opacity="1"/>
<line x1="589.57" y1="367.69" x2="586.8" y2="358" stroke="#dcdcdc" stroke-width="0.45" stroke-linecap="butt" opacity="1"/>
<line x1="594.38" y1="365.09" x2="591.3" y2="355.38" stroke="#dcdcdc" stroke-width="0.45" stroke-linecap="butt" opacity="1"/>
<line x1="599.19" y1="362.49" x2="595.8" y2="352.75" stroke="#dcdcdc" stroke-width="0.45" stroke-linecap="butt" opacity="1"/>
<line x1="603.99" y1="359.9" x2="600.3" y2="350.12" stroke="#dcdcdc" stroke-width="0.45" stroke-linecap="butt" opacity="1"/>
<line x1="480" y1="421" x2="606" y2="347.5" stroke="#909090" stroke-width="0.7" stroke-linecap="butt" opacity="1"/>
<rect x="603.8" y="345" width="6.2" height="3.6" fill="#c4c4cc" rx="1"/>
<path d="M481 422.3 L484.13 419.45 L487.26 416.77 L490.4 414.14 L493.53 411.57 L496.66 409.04 L499.8 406.56 L502.93 404.13 L506.06 401.75 L509.19 399.41 L512.33 397.13 L515.46 394.89 L518.59 392.71 L521.72 390.58 L524.86 388.5 L527.99 386.47 L531.12 384.5 L534.25 382.58 L537.38 380.71 L540.52 378.89 L543.65 377.12 L546.78 375.41 L549.91 373.74 L553.05 372.11 L556.18 370.54 L559.31 369 L562.44 367.5 L565.58 366.05 L568.71 364.63 L571.84 363.24 L574.97 361.89 L578.11 360.56 L581.24 359.26 L584.37 357.98 L587.5 356.72 L590.64 355.47 L593.77 354.24 L596.9 353.02 L600.03 351.81 L603.17 350.61 L606.3 349.4" fill="none" stroke="url(#cg5)" stroke-width="3.4" stroke-linecap="round" stroke-linejoin="round"/>
<text x="454.4" y="423.5" font-family='"Liberation Sans", sans-serif' font-size="6.8" font-weight="normal" text-anchor="middle" fill="#3a3a3a" stroke="#3a3a3a" stroke-width="0.22">20</text>
<text x="475" y="441.1" font-family='"Liberation Sans", sans-serif' font-size="6.8" font-weight="normal" text-anchor="middle" fill="#3a3a3a" stroke="#3a3a3a" stroke-width="0.22">50</text>
<text x="487.4" y="439.7" font-family='"Liberation Sans", sans-serif' font-size="6.8" font-weight="normal" text-anchor="middle" fill="#3a3a3a" stroke="#3a3a3a" stroke-width="0.22">0</text>
<text x="522.9" y="419.1" font-family='"Liberation Sans", sans-serif' font-size="6.8" font-weight="normal" text-anchor="middle" fill="#3a3a3a" stroke="#3a3a3a" stroke-width="0.22">1</text>
<text x="555.5" y="399.5" font-family='"Liberation Sans", sans-serif' font-size="6.8" font-weight="normal" text-anchor="middle" fill="#3a3a3a" stroke="#3a3a3a" stroke-width="0.22">2</text>
<text x="571.5" y="410.3" font-family='"Liberation Sans", sans-serif' font-size="6.5" font-weight="normal" text-anchor="middle" fill="#3a3a3a" stroke="#3a3a3a" stroke-width="0.22">x10<tspan dy="-2.5" font-size="4.5">3</tspan><tspan dy="2.5"> nm</tspan></text>
<text x="585.7" y="381.9" font-family='"Liberation Sans", sans-serif' font-size="6.8" font-weight="normal" text-anchor="middle" fill="#3a3a3a" stroke="#3a3a3a" stroke-width="0.22">3</text>
<text x="614" y="365.2" font-family='"Liberation Sans", sans-serif' font-size="6.8" font-weight="normal" text-anchor="middle" fill="#3a3a3a" stroke="#3a3a3a" stroke-width="0.22">4</text>
<line x1="469.9" y1="461.5" x2="458.9" y2="461.3" stroke="#6aa070" stroke-width="1.2" stroke-linecap="butt" opacity="1"/>
<line x1="469.9" y1="461.5" x2="469" y2="450.5" stroke="#4a5a80" stroke-width="1.2" stroke-linecap="butt" opacity="1"/>
<line x1="469.9" y1="461.5" x2="476.7" y2="457.2" stroke="#a03060" stroke-width="1.2" stroke-linecap="butt" opacity="1"/>
<text x="454.3" y="462.4" font-family='"Liberation Sans", sans-serif' font-size="6.6" font-weight="normal" text-anchor="middle" fill="#505050" stroke="#505050" stroke-width="0.22">y</text>
<text x="469" y="447.2" font-family='"Liberation Sans", sans-serif' font-size="6.2" font-weight="normal" text-anchor="middle" fill="#404040" stroke="#404040" stroke-width="0.22">z</text>
<text x="478.4" y="459" font-family='"Liberation Sans", sans-serif' font-size="5.6" font-weight="normal" text-anchor="middle" fill="#604050" stroke="#604050" stroke-width="0.22">x</text>
<text x="468.6" y="458.6" font-family='"Liberation Sans", sans-serif' font-size="6.2" font-weight="normal" text-anchor="middle" fill="#505050" stroke="#505050" stroke-width="0.22">nm</text>
<g transform="translate(115 516.9) scale(1 1.06)">
<text x="0" y="0" font-family='"Liberation Serif", serif' font-size="14.2" font-weight="bold" text-anchor="middle" fill="#000">(G)</text>
</g>
<text x="39" y="533.1" font-family='"Liberation Sans", sans-serif' font-size="7.6" font-weight="normal" text-anchor="start" fill="#3a3a3a" stroke="#3a3a3a" stroke-width="0.22" textLength="143.2" lengthAdjust="spacingAndGlyphs">Load case 1 &#160;&#160;Line: Total displacement (nm)</text>
<rect x="224.9" y="524" width="7.9" height="6" rx="1.6" fill="#33496a"/>
<path d="M227.1 525.4 l3 1.6 l-3 1.6z" fill="#cfe0f4"/>
<path d="M182 549.8 l5.6 0 l-2.8 -4.76z" fill="#000"/>
<text x="189.9" y="551.4" font-family='"Liberation Sans", sans-serif' font-size="7.2" font-weight="normal" text-anchor="start" fill="#404040" stroke="#404040" stroke-width="0.22" textLength="28" lengthAdjust="spacingAndGlyphs">1.22&#215;10</text>
<text x="218.2" y="548" font-family='"Liberation Sans", sans-serif' font-size="4.4" font-weight="normal" text-anchor="start" fill="#404040" stroke="#404040" stroke-width="0.22" textLength="4.5" lengthAdjust="spacingAndGlyphs">-8</text>
<text x="196.9" y="560" font-family='"Liberation Sans", sans-serif' font-size="7.2" font-weight="normal" text-anchor="start" fill="#404040" stroke="#404040" stroke-width="0.22" textLength="12.7" lengthAdjust="spacingAndGlyphs">&#215;10</text>
<text x="209.9" y="556.6" font-family='"Liberation Sans", sans-serif' font-size="4.4" font-weight="normal" text-anchor="start" fill="#404040" stroke="#404040" stroke-width="0.22" textLength="4.9" lengthAdjust="spacingAndGlyphs">-8</text>
<rect x="189.6" y="565.6" width="7.8" height="126" fill="url(#cb)"/>
<rect x="190" y="566" width="7" height="125.2" fill="none" stroke="#000" stroke-opacity="0.42" stroke-width="0.8"/>
<text x="201.2" y="569.4" font-family='"Liberation Sans", sans-serif' font-size="7" font-weight="normal" text-anchor="start" fill="#505050" stroke="#505050" stroke-width="0.22">12</text>
<line x1="189.6" y1="566.9" x2="190.8" y2="566.9" stroke="#333" stroke-width="0.6" stroke-linecap="butt" opacity="0.6"/>
<line x1="196.2" y1="566.9" x2="197.4" y2="566.9" stroke="#333" stroke-width="0.6" stroke-linecap="butt" opacity="0.6"/>
<text x="201.2" y="590.18" font-family='"Liberation Sans", sans-serif' font-size="7" font-weight="normal" text-anchor="start" fill="#505050" stroke="#505050" stroke-width="0.22">10</text>
<line x1="189.6" y1="587.68" x2="190.8" y2="587.68" stroke="#333" stroke-width="0.6" stroke-linecap="butt" opacity="0.6"/>
<line x1="196.2" y1="587.68" x2="197.4" y2="587.68" stroke="#333" stroke-width="0.6" stroke-linecap="butt" opacity="0.6"/>
<text x="201.2" y="610.97" font-family='"Liberation Sans", sans-serif' font-size="7" font-weight="normal" text-anchor="start" fill="#505050" stroke="#505050" stroke-width="0.22">8</text>
<line x1="189.6" y1="608.47" x2="190.8" y2="608.47" stroke="#333" stroke-width="0.6" stroke-linecap="butt" opacity="0.6"/>
<line x1="196.2" y1="608.47" x2="197.4" y2="608.47" stroke="#333" stroke-width="0.6" stroke-linecap="butt" opacity="0.6"/>
<text x="201.2" y="631.75" font-family='"Liberation Sans", sans-serif' font-size="7" font-weight="normal" text-anchor="start" fill="#505050" stroke="#505050" stroke-width="0.22">6</text>
<line x1="189.6" y1="629.25" x2="190.8" y2="629.25" stroke="#333" stroke-width="0.6" stroke-linecap="butt" opacity="0.6"/>
<line x1="196.2" y1="629.25" x2="197.4" y2="629.25" stroke="#333" stroke-width="0.6" stroke-linecap="butt" opacity="0.6"/>
<text x="201.2" y="652.53" font-family='"Liberation Sans", sans-serif' font-size="7" font-weight="normal" text-anchor="start" fill="#505050" stroke="#505050" stroke-width="0.22">4</text>
<line x1="189.6" y1="650.03" x2="190.8" y2="650.03" stroke="#333" stroke-width="0.6" stroke-linecap="butt" opacity="0.6"/>
<line x1="196.2" y1="650.03" x2="197.4" y2="650.03" stroke="#333" stroke-width="0.6" stroke-linecap="butt" opacity="0.6"/>
<text x="201.2" y="673.32" font-family='"Liberation Sans", sans-serif' font-size="7" font-weight="normal" text-anchor="start" fill="#505050" stroke="#505050" stroke-width="0.22">2</text>
<line x1="189.6" y1="670.82" x2="190.8" y2="670.82" stroke="#333" stroke-width="0.6" stroke-linecap="butt" opacity="0.6"/>
<line x1="196.2" y1="670.82" x2="197.4" y2="670.82" stroke="#333" stroke-width="0.6" stroke-linecap="butt" opacity="0.6"/>
<text x="201.2" y="694.1" font-family='"Liberation Sans", sans-serif' font-size="7" font-weight="normal" text-anchor="start" fill="#505050" stroke="#505050" stroke-width="0.22">0</text>
<line x1="189.6" y1="691.6" x2="190.8" y2="691.6" stroke="#333" stroke-width="0.6" stroke-linecap="butt" opacity="0.6"/>
<line x1="196.2" y1="691.6" x2="197.4" y2="691.6" stroke="#333" stroke-width="0.6" stroke-linecap="butt" opacity="0.6"/>
<path d="M183 698.7 l5.2 0 l-2.6 4.6z" fill="#000"/>
<text x="190.8" y="703.5" font-family='"Liberation Sans", sans-serif' font-size="7" font-weight="normal" text-anchor="start" fill="#606060" stroke="#606060" stroke-width="0.22">0</text>
<line x1="28.7" y1="638.4" x2="147.8" y2="598.7" stroke="#cdcdcd" stroke-width="5.5" stroke-linecap="butt" opacity="1"/>
<line x1="28.7" y1="638.95" x2="147.8" y2="599.25" stroke="#a0a0a0" stroke-width="0.8" stroke-linecap="butt" opacity="0.7"/>
<line x1="32.2" y1="654.8" x2="152.5" y2="613.9" stroke="#cdcdcd" stroke-width="5" stroke-linecap="butt" opacity="1"/>
<line x1="32.2" y1="655.3" x2="152.5" y2="614.4" stroke="#a0a0a0" stroke-width="0.8" stroke-linecap="butt" opacity="0.7"/>
<rect x="154.8" y="601" width="5.8" height="6" fill="#c4c4cc" rx="1"/>
<path d="M35.7 641.2 L38.65 640.77 L41.59 640.35 L44.54 639.94 L47.49 639.53 L50.44 639.11 L53.39 638.69 L56.33 638.27 L59.28 637.83 L62.23 637.38 L65.17 636.92 L68.12 636.43 L71.07 635.93 L74.02 635.4 L76.97 634.85 L79.91 634.26 L82.86 633.64 L85.81 632.98 L88.75 632.28 L91.7 631.54 L94.65 630.76 L97.6 629.92 L100.55 629.04 L103.49 628.1 L106.44 627.11 L109.39 626.06 L112.33 624.96 L115.28 623.79 L118.23 622.56 L121.18 621.27 L124.12 619.92 L127.07 618.5 L130.02 617.02 L132.97 615.48 L135.91 613.87 L138.86 612.19 L141.81 610.44 L144.76 608.61 L147.7 606.7 L150.65 604.65 L153.6 602.2" fill="none" stroke="url(#cg6)" stroke-width="2.8" stroke-linecap="round" stroke-linejoin="round"/>
<text x="28.8" y="631.8" font-family='"Liberation Sans", sans-serif' font-size="6.8" font-weight="normal" text-anchor="middle" fill="#3a3a3a" stroke="#3a3a3a" stroke-width="0.22">0</text>
<text x="18.6" y="641" font-family='"Liberation Sans", sans-serif' font-size="6.8" font-weight="normal" text-anchor="middle" fill="#3a3a3a" stroke="#3a3a3a" stroke-width="0.22">-40</text>
<text x="27" y="664.5" font-family='"Liberation Sans", sans-serif' font-size="6.8" font-weight="normal" text-anchor="middle" fill="#3a3a3a" stroke="#3a3a3a" stroke-width="0.22">-40</text>
<text x="61" y="620.5" font-family='"Liberation Sans", sans-serif' font-size="6.8" font-weight="normal" text-anchor="middle" fill="#3a3a3a" stroke="#3a3a3a" stroke-width="0.22">1</text>
<text x="91.4" y="611.5" font-family='"Liberation Sans", sans-serif' font-size="6.8" font-weight="normal" text-anchor="middle" fill="#3a3a3a" stroke="#3a3a3a" stroke-width="0.22">2</text>
<text x="84.7" y="600.3" font-family='"Liberation Sans", sans-serif' font-size="6.5" font-weight="normal" text-anchor="middle" fill="#3a3a3a" stroke="#3a3a3a" stroke-width="0.22">x10<tspan dy="-2.5" font-size="4.5">3</tspan><tspan dy="2.5"> nm</tspan></text>
<text x="120.2" y="601.3" font-family='"Liberation Sans", sans-serif' font-size="6.8" font-weight="normal" text-anchor="middle" fill="#3a3a3a" stroke="#3a3a3a" stroke-width="0.22">3</text>
<text x="146.3" y="592.9" font-family='"Liberation Sans", sans-serif' font-size="6.8" font-weight="normal" text-anchor="middle" fill="#3a3a3a" stroke="#3a3a3a" stroke-width="0.22">4</text>
<text x="17" y="677.5" font-family='"Liberation Sans", sans-serif' font-size="6.8" font-weight="normal" text-anchor="middle" fill="#3a3a3a" stroke="#3a3a3a" stroke-width="0.22">nm</text>
<line x1="28.4" y1="700.9" x2="19.6" y2="695.4" stroke="#6aa070" stroke-width="1.2" stroke-linecap="butt" opacity="1"/>
<line x1="28.4" y1="700.9" x2="33.1" y2="692.2" stroke="#4a5a80" stroke-width="1.2" stroke-linecap="butt" opacity="1"/>
<line x1="28.4" y1="700.9" x2="35.7" y2="698.7" stroke="#a03060" stroke-width="1.2" stroke-linecap="butt" opacity="1"/>
<text x="15.6" y="695.1" font-family='"Liberation Sans", sans-serif' font-size="6.6" font-weight="normal" text-anchor="middle" fill="#505050" stroke="#505050" stroke-width="0.22">y</text>
<text x="34.9" y="688.9" font-family='"Liberation Sans", sans-serif' font-size="6.2" font-weight="normal" text-anchor="middle" fill="#404040" stroke="#404040" stroke-width="0.22">z</text>
<text x="37.4" y="699.9" font-family='"Liberation Sans", sans-serif' font-size="5.6" font-weight="normal" text-anchor="middle" fill="#604050" stroke="#604050" stroke-width="0.22">x</text>
<g transform="translate(336.2 516.8) scale(1 1.06)">
<text x="0" y="0" font-family='"Liberation Serif", serif' font-size="14.2" font-weight="bold" text-anchor="middle" fill="#000">(H)</text>
</g>
<text x="265.4" y="532" font-family='"Liberation Sans", sans-serif' font-size="7.6" font-weight="normal" text-anchor="start" fill="#3a3a3a" stroke="#3a3a3a" stroke-width="0.22" textLength="129.6" lengthAdjust="spacingAndGlyphs">Load case 1 &#160;&#160;Line: Total displacement (nm)</text>
<rect x="432.5" y="523.8" width="7.5" height="5.2" rx="1.6" fill="#33496a"/>
<path d="M434.7 524.8 l3 1.6 l-3 1.6z" fill="#cfe0f4"/>
<path d="M394.8 546.9 l5.6 0 l-2.8 -4.76z" fill="#000"/>
<text x="402.3" y="548.5" font-family='"Liberation Sans", sans-serif' font-size="7.2" font-weight="normal" text-anchor="start" fill="#404040" stroke="#404040" stroke-width="0.22" textLength="25.4" lengthAdjust="spacingAndGlyphs">4.44&#215;10</text>
<text x="428" y="545.1" font-family='"Liberation Sans", sans-serif' font-size="4.4" font-weight="normal" text-anchor="start" fill="#404040" stroke="#404040" stroke-width="0.22" textLength="4.9" lengthAdjust="spacingAndGlyphs">-8</text>
<text x="408.8" y="556.4" font-family='"Liberation Sans", sans-serif' font-size="7.2" font-weight="normal" text-anchor="start" fill="#404040" stroke="#404040" stroke-width="0.22" textLength="11.4" lengthAdjust="spacingAndGlyphs">&#215;10</text>
<text x="420.5" y="553" font-family='"Liberation Sans", sans-serif' font-size="4.4" font-weight="normal" text-anchor="start" fill="#404040" stroke="#404040" stroke-width="0.22" textLength="4.1" lengthAdjust="spacingAndGlyphs">-9</text>
<rect x="401.3" y="560.4" width="7.7" height="114.6" fill="url(#cb)"/>
<rect x="401.7" y="560.8" width="6.9" height="113.8" fill="none" stroke="#000" stroke-opacity="0.42" stroke-width="0.8"/>
<text x="411.8" y="573.9" font-family='"Liberation Sans", sans-serif' font-size="7" font-weight="normal" text-anchor="start" fill="#505050" stroke="#505050" stroke-width="0.22">40</text>
<line x1="401.3" y1="571.4" x2="402.5" y2="571.4" stroke="#333" stroke-width="0.6" stroke-linecap="butt" opacity="0.6"/>
<line x1="407.8" y1="571.4" x2="409" y2="571.4" stroke="#333" stroke-width="0.6" stroke-linecap="butt" opacity="0.6"/>
<text x="411.8" y="586.8" font-family='"Liberation Sans", sans-serif' font-size="7" font-weight="normal" text-anchor="start" fill="#505050" stroke="#505050" stroke-width="0.22">35</text>
<line x1="401.3" y1="584.3" x2="402.5" y2="584.3" stroke="#333" stroke-width="0.6" stroke-linecap="butt" opacity="0.6"/>
<line x1="407.8" y1="584.3" x2="409" y2="584.3" stroke="#333" stroke-width="0.6" stroke-linecap="butt" opacity="0.6"/>
<text x="411.8" y="599.7" font-family='"Liberation Sans", sans-serif' font-size="7" font-weight="normal" text-anchor="start" fill="#505050" stroke="#505050" stroke-width="0.22">30</text>
<line x1="401.3" y1="597.2" x2="402.5" y2="597.2" stroke="#333" stroke-width="0.6" stroke-linecap="butt" opacity="0.6"/>
<line x1="407.8" y1="597.2" x2="409" y2="597.2" stroke="#333" stroke-width="0.6" stroke-linecap="butt" opacity="0.6"/>
<text x="411.8" y="612.6" font-family='"Liberation Sans", sans-serif' font-size="7" font-weight="normal" text-anchor="start" fill="#505050" stroke="#505050" stroke-width="0.22">25</text>
<line x1="401.3" y1="610.1" x2="402.5" y2="610.1" stroke="#333" stroke-width="0.6" stroke-linecap="butt" opacity="0.6"/>
<line x1="407.8" y1="610.1" x2="409" y2="610.1" stroke="#333" stroke-width="0.6" stroke-linecap="butt" opacity="0.6"/>
<text x="411.8" y="625.5" font-family='"Liberation Sans", sans-serif' font-size="7" font-weight="normal" text-anchor="start" fill="#505050" stroke="#505050" stroke-width="0.22">20</text>
<line x1="401.3" y1="623" x2="402.5" y2="623" stroke="#333" stroke-width="0.6" stroke-linecap="butt" opacity="0.6"/>
<line x1="407.8" y1="623" x2="409" y2="623" stroke="#333" stroke-width="0.6" stroke-linecap="butt" opacity="0.6"/>
<text x="411.8" y="638.4" font-family='"Liberation Sans", sans-serif' font-size="7" font-weight="normal" text-anchor="start" fill="#505050" stroke="#505050" stroke-width="0.22">15</text>
<line x1="401.3" y1="635.9" x2="402.5" y2="635.9" stroke="#333" stroke-width="0.6" stroke-linecap="butt" opacity="0.6"/>
<line x1="407.8" y1="635.9" x2="409" y2="635.9" stroke="#333" stroke-width="0.6" stroke-linecap="butt" opacity="0.6"/>
<text x="411.8" y="651.3" font-family='"Liberation Sans", sans-serif' font-size="7" font-weight="normal" text-anchor="start" fill="#505050" stroke="#505050" stroke-width="0.22">10</text>
<line x1="401.3" y1="648.8" x2="402.5" y2="648.8" stroke="#333" stroke-width="0.6" stroke-linecap="butt" opacity="0.6"/>
<line x1="407.8" y1="648.8" x2="409" y2="648.8" stroke="#333" stroke-width="0.6" stroke-linecap="butt" opacity="0.6"/>
<text x="411.8" y="664.2" font-family='"Liberation Sans", sans-serif' font-size="7" font-weight="normal" text-anchor="start" fill="#505050" stroke="#505050" stroke-width="0.22">5</text>
<line x1="401.3" y1="661.7" x2="402.5" y2="661.7" stroke="#333" stroke-width="0.6" stroke-linecap="butt" opacity="0.6"/>
<line x1="407.8" y1="661.7" x2="409" y2="661.7" stroke="#333" stroke-width="0.6" stroke-linecap="butt" opacity="0.6"/>
<text x="411.8" y="677.1" font-family='"Liberation Sans", sans-serif' font-size="7" font-weight="normal" text-anchor="start" fill="#505050" stroke="#505050" stroke-width="0.22">0</text>
<line x1="401.3" y1="674.6" x2="402.5" y2="674.6" stroke="#333" stroke-width="0.6" stroke-linecap="butt" opacity="0.6"/>
<line x1="407.8" y1="674.6" x2="409" y2="674.6" stroke="#333" stroke-width="0.6" stroke-linecap="butt" opacity="0.6"/>
<path d="M395.6 681 l5.2 0 l-2.6 4.6z" fill="#000"/>
<text x="403.4" y="685.8" font-family='"Liberation Sans", sans-serif' font-size="7" font-weight="normal" text-anchor="start" fill="#606060" stroke="#606060" stroke-width="0.22">0</text>
<line x1="253.1" y1="628.8" x2="370.3" y2="597" stroke="#cdcdcd" stroke-width="5" stroke-linecap="butt" opacity="1"/>
<line x1="253.1" y1="629.3" x2="370.3" y2="597.5" stroke="#a0a0a0" stroke-width="0.8" stroke-linecap="butt" opacity="0.7"/>
<line x1="257.5" y1="638.6" x2="375.8" y2="605.8" stroke="#cdcdcd" stroke-width="5" stroke-linecap="butt" opacity="1"/>
<line x1="257.5" y1="639.1" x2="375.8" y2="606.3" stroke="#a0a0a0" stroke-width="0.8" stroke-linecap="butt" opacity="0.7"/>
<rect x="375.8" y="597" width="4.2" height="3.3" fill="#c4c4cc" rx="1"/>
<path d="M260.8 635.8 L263.65 634.44 L266.5 633.05 L269.34 631.67 L272.19 630.29 L275.04 628.92 L277.88 627.57 L280.73 626.23 L283.58 624.93 L286.43 623.65 L289.27 622.4 L292.12 621.18 L294.97 620 L297.82 618.86 L300.67 617.75 L303.51 616.69 L306.36 615.67 L309.21 614.7 L312.06 613.76 L314.9 612.87 L317.75 612.02 L320.6 611.22 L323.44 610.46 L326.29 609.74 L329.14 609.05 L331.99 608.41 L334.83 607.8 L337.68 607.23 L340.53 606.69 L343.38 606.18 L346.23 605.69 L349.07 605.23 L351.92 604.78 L354.77 604.36 L357.62 603.94 L360.46 603.53 L363.31 603.13 L366.16 602.73 L369 602.31 L371.85 601.88 L374.7 601.4" fill="none" stroke="url(#cg7)" stroke-width="2.3" stroke-linecap="round" stroke-linejoin="round"/>
<text x="243.7" y="631.7" font-family='"Liberation Sans", sans-serif' font-size="6.8" font-weight="normal" text-anchor="middle" fill="#3a3a3a" stroke="#3a3a3a" stroke-width="0.22">40</text>
<text x="252" y="648.4" font-family='"Liberation Sans", sans-serif' font-size="6.8" font-weight="normal" text-anchor="middle" fill="#3a3a3a" stroke="#3a3a3a" stroke-width="0.22">40</text>
<text x="262.7" y="650.7" font-family='"Liberation Sans", sans-serif' font-size="6.8" font-weight="normal" text-anchor="middle" fill="#3a3a3a" stroke="#3a3a3a" stroke-width="0.22">0</text>
<text x="293.8" y="641.7" font-family='"Liberation Sans", sans-serif' font-size="6.8" font-weight="normal" text-anchor="middle" fill="#3a3a3a" stroke="#3a3a3a" stroke-width="0.22">1</text>
<text x="323.8" y="632.4" font-family='"Liberation Sans", sans-serif' font-size="6.8" font-weight="normal" text-anchor="middle" fill="#3a3a3a" stroke="#3a3a3a" stroke-width="0.22">2</text>
<text x="332" y="644.1" font-family='"Liberation Sans", sans-serif' font-size="6.5" font-weight="normal" text-anchor="middle" fill="#3a3a3a" stroke="#3a3a3a" stroke-width="0.22">x10<tspan dy="-2.5" font-size="4.5">3</tspan><tspan dy="2.5"> nm</tspan></text>
<text x="352.9" y="624" font-family='"Liberation Sans", sans-serif' font-size="6.8" font-weight="normal" text-anchor="middle" fill="#3a3a3a" stroke="#3a3a3a" stroke-width="0.22">3</text>
<text x="378" y="615.7" font-family='"Liberation Sans", sans-serif' font-size="6.8" font-weight="normal" text-anchor="middle" fill="#3a3a3a" stroke="#3a3a3a" stroke-width="0.22">4</text>
<text x="243.7" y="657.4" font-family='"Liberation Sans", sans-serif' font-size="6.8" font-weight="normal" text-anchor="middle" fill="#3a3a3a" stroke="#3a3a3a" stroke-width="0.22">nm</text>
<line x1="256.9" y1="682.6" x2="249.2" y2="679.3" stroke="#6aa070" stroke-width="1.2" stroke-linecap="butt" opacity="1"/>
<line x1="256.9" y1="682.6" x2="258.7" y2="674.6" stroke="#4a5a80" stroke-width="1.2" stroke-linecap="butt" opacity="1"/>
<line x1="256.9" y1="682.6" x2="264.9" y2="680.8" stroke="#a03060" stroke-width="1.2" stroke-linecap="butt" opacity="1"/>
<text x="245.2" y="679.4" font-family='"Liberation Sans", sans-serif' font-size="6.6" font-weight="normal" text-anchor="middle" fill="#505050" stroke="#505050" stroke-width="0.22">y</text>
<text x="260.5" y="672.1" font-family='"Liberation Sans", sans-serif' font-size="6.2" font-weight="normal" text-anchor="middle" fill="#404040" stroke="#404040" stroke-width="0.22">z</text>
<text x="265.9" y="682.1" font-family='"Liberation Sans", sans-serif' font-size="5.6" font-weight="normal" text-anchor="middle" fill="#604050" stroke="#604050" stroke-width="0.22">x</text>
<g transform="translate(559 516.7) scale(1 1.06)">
<text x="0" y="0" font-family='"Liberation Serif", serif' font-size="14.2" font-weight="bold" text-anchor="middle" fill="#000">(I)</text>
</g>
<text x="479.2" y="533" font-family='"Liberation Sans", sans-serif' font-size="7.6" font-weight="normal" text-anchor="start" fill="#3a3a3a" stroke="#3a3a3a" stroke-width="0.22" textLength="145.5" lengthAdjust="spacingAndGlyphs">Load case 1 &#160;&#160;Line: Total displacement (nm)</text>
<rect x="668.5" y="524.8" width="7.7" height="5.1" rx="1.6" fill="#33496a"/>
<path d="M670.7 525.75 l3 1.6 l-3 1.6z" fill="#cfe0f4"/>
<path d="M624.6 550.2 l5.6 0 l-2.8 -4.76z" fill="#000"/>
<text x="632.9" y="551.8" font-family='"Liberation Sans", sans-serif' font-size="7.2" font-weight="normal" text-anchor="start" fill="#404040" stroke="#404040" stroke-width="0.22" textLength="28.4" lengthAdjust="spacingAndGlyphs">5.59&#215;10</text>
<text x="661.6" y="548.4" font-family='"Liberation Sans", sans-serif' font-size="4.4" font-weight="normal" text-anchor="start" fill="#404040" stroke="#404040" stroke-width="0.22" textLength="5" lengthAdjust="spacingAndGlyphs">-8</text>
<text x="639.9" y="561" font-family='"Liberation Sans", sans-serif' font-size="7.2" font-weight="normal" text-anchor="start" fill="#404040" stroke="#404040" stroke-width="0.22" textLength="12.3" lengthAdjust="spacingAndGlyphs">&#215;10</text>
<text x="652.5" y="557.6" font-family='"Liberation Sans", sans-serif' font-size="4.4" font-weight="normal" text-anchor="start" fill="#404040" stroke="#404040" stroke-width="0.22" textLength="5.8" lengthAdjust="spacingAndGlyphs">-4</text>
<rect x="631.8" y="566.1" width="8.9" height="128.5" fill="url(#cb)"/>
<rect x="632.2" y="566.5" width="8.1" height="127.7" fill="none" stroke="#000" stroke-opacity="0.42" stroke-width="0.8"/>
<text x="644.3" y="581.5" font-family='"Liberation Sans", sans-serif' font-size="7" font-weight="normal" text-anchor="start" fill="#505050" stroke="#505050" stroke-width="0.22">5</text>
<line x1="631.8" y1="579" x2="633" y2="579" stroke="#333" stroke-width="0.6" stroke-linecap="butt" opacity="0.6"/>
<line x1="639.5" y1="579" x2="640.7" y2="579" stroke="#333" stroke-width="0.6" stroke-linecap="butt" opacity="0.6"/>
<text x="644.3" y="604.48" font-family='"Liberation Sans", sans-serif' font-size="7" font-weight="normal" text-anchor="start" fill="#505050" stroke="#505050" stroke-width="0.22">4</text>
<line x1="631.8" y1="601.98" x2="633" y2="601.98" stroke="#333" stroke-width="0.6" stroke-linecap="butt" opacity="0.6"/>
<line x1="639.5" y1="601.98" x2="640.7" y2="601.98" stroke="#333" stroke-width="0.6" stroke-linecap="butt" opacity="0.6"/>
<text x="644.3" y="627.46" font-family='"Liberation Sans", sans-serif' font-size="7" font-weight="normal" text-anchor="start" fill="#505050" stroke="#505050" stroke-width="0.22">3</text>
<line x1="631.8" y1="624.96" x2="633" y2="624.96" stroke="#333" stroke-width="0.6" stroke-linecap="butt" opacity="0.6"/>
<line x1="639.5" y1="624.96" x2="640.7" y2="624.96" stroke="#333" stroke-width="0.6" stroke-linecap="butt" opacity="0.6"/>
<text x="644.3" y="650.44" font-family='"Liberation Sans", sans-serif' font-size="7" font-weight="normal" text-anchor="start" fill="#505050" stroke="#505050" stroke-width="0.22">2</text>
<line x1="631.8" y1="647.94" x2="633" y2="647.94" stroke="#333" stroke-width="0.6" stroke-linecap="butt" opacity="0.6"/>
<line x1="639.5" y1="647.94" x2="640.7" y2="647.94" stroke="#333" stroke-width="0.6" stroke-linecap="butt" opacity="0.6"/>
<text x="644.3" y="673.42" font-family='"Liberation Sans", sans-serif' font-size="7" font-weight="normal" text-anchor="start" fill="#505050" stroke="#505050" stroke-width="0.22">1</text>
<line x1="631.8" y1="670.92" x2="633" y2="670.92" stroke="#333" stroke-width="0.6" stroke-linecap="butt" opacity="0.6"/>
<line x1="639.5" y1="670.92" x2="640.7" y2="670.92" stroke="#333" stroke-width="0.6" stroke-linecap="butt" opacity="0.6"/>
<text x="644.3" y="696.4" font-family='"Liberation Sans", sans-serif' font-size="7" font-weight="normal" text-anchor="start" fill="#505050" stroke="#505050" stroke-width="0.22">0</text>
<line x1="631.8" y1="693.9" x2="633" y2="693.9" stroke="#333" stroke-width="0.6" stroke-linecap="butt" opacity="0.6"/>
<line x1="639.5" y1="693.9" x2="640.7" y2="693.9" stroke="#333" stroke-width="0.6" stroke-linecap="butt" opacity="0.6"/>
<path d="M624.7 701.7 l5.2 0 l-2.6 4.6z" fill="#000"/>
<text x="632.5" y="706.5" font-family='"Liberation Sans", sans-serif' font-size="7" font-weight="normal" text-anchor="start" fill="#606060" stroke="#606060" stroke-width="0.22">0</text>
<line x1="464.9" y1="649.6" x2="589" y2="602.4" stroke="#b4b4b8" stroke-width="3.2" stroke-linecap="butt" opacity="1"/>
<line x1="464.9" y1="650.4" x2="589" y2="603.2" stroke="#8c8c90" stroke-width="0.9" stroke-linecap="butt" opacity="0.8"/>
<polygon points="472.6,661 604,616 600,609 482,655" fill="#efefef" stroke="#c8c8c8" stroke-width="0.7"/>
<line x1="477.29" y1="659.39" x2="485.01" y2="653.36" stroke="#dcdcdc" stroke-width="0.45" stroke-linecap="butt" opacity="1"/>
<line x1="481.99" y1="657.79" x2="489.23" y2="651.71" stroke="#dcdcdc" stroke-width="0.45" stroke-linecap="butt" opacity="1"/>
<line x1="486.68" y1="656.18" x2="493.44" y2="650.07" stroke="#dcdcdc" stroke-width="0.45" stroke-linecap="butt" opacity="1"/>
<line x1="491.37" y1="654.57" x2="497.66" y2="648.43" stroke="#dcdcdc" stroke-width="0.45" stroke-linecap="butt" opacity="1"/>
<line x1="496.06" y1="652.96" x2="501.87" y2="646.79" stroke="#dcdcdc" stroke-width="0.45" stroke-linecap="butt" opacity="1"/>
<line x1="500.76" y1="651.36" x2="506.09" y2="645.14" stroke="#dcdcdc" stroke-width="0.45" stroke-linecap="butt" opacity="1"/>
<line x1="505.45" y1="649.75" x2="510.3" y2="643.5" stroke="#dcdcdc" stroke-width="0.45" stroke-linecap="butt" opacity="1"/>
<line x1="510.14" y1="648.14" x2="514.51" y2="641.86" stroke="#dcdcdc" stroke-width="0.45" stroke-linecap="butt" opacity="1"/>
<line x1="514.84" y1="646.54" x2="518.73" y2="640.21" stroke="#dcdcdc" stroke-width="0.45" stroke-linecap="butt" opacity="1"/>
<line x1="519.53" y1="644.93" x2="522.94" y2="638.57" stroke="#dcdcdc" stroke-width="0.45" stroke-linecap="butt" opacity="1"/>
<line x1="524.22" y1="643.32" x2="527.16" y2="636.93" stroke="#dcdcdc" stroke-width="0.45" stroke-linecap="butt" opacity="1"/>
<line x1="528.91" y1="641.71" x2="531.37" y2="635.29" stroke="#dcdcdc" stroke-width="0.45" stroke-linecap="butt" opacity="1"/>
<line x1="533.61" y1="640.11" x2="535.59" y2="633.64" stroke="#dcdcdc" stroke-width="0.45" stroke-linecap="butt" opacity="1"/>
<line x1="538.3" y1="638.5" x2="539.8" y2="632" stroke="#dcdcdc" stroke-width="0.45" stroke-linecap="butt" opacity="1"/>
<line x1="542.99" y1="636.89" x2="544.01" y2="630.36" stroke="#dcdcdc" stroke-width="0.45" stroke-linecap="butt" opacity="1"/>
<line x1="547.69" y1="635.29" x2="548.23" y2="628.71" stroke="#dcdcdc" stroke-width="0.45" stroke-linecap="butt" opacity="1"/>
<line x1="552.38" y1="633.68" x2="552.44" y2="627.07" stroke="#dcdcdc" stroke-width="0.45" stroke-linecap="butt" opacity="1"/>
<line x1="557.07" y1="632.07" x2="556.66" y2="625.43" stroke="#dcdcdc" stroke-width="0.45" stroke-linecap="butt" opacity="1"/>
<line x1="561.76" y1="630.46" x2="560.87" y2="623.79" stroke="#dcdcdc" stroke-width="0.45" stroke-linecap="butt" opacity="1"/>
<line x1="566.46" y1="628.86" x2="565.09" y2="622.14" stroke="#dcdcdc" stroke-width="0.45" stroke-linecap="butt" opacity="1"/>
<line x1="571.15" y1="627.25" x2="569.3" y2="620.5" stroke="#dcdcdc" stroke-width="0.45" stroke-linecap="butt" opacity="1"/>
<line x1="575.84" y1="625.64" x2="573.51" y2="618.86" stroke="#dcdcdc" stroke-width="0.45" stroke-linecap="butt" opacity="1"/>
<line x1="580.54" y1="624.04" x2="577.73" y2="617.21" stroke="#dcdcdc" stroke-width="0.45" stroke-linecap="butt" opacity="1"/>
<line x1="585.23" y1="622.43" x2="581.94" y2="615.57" stroke="#dcdcdc" stroke-width="0.45" stroke-linecap="butt" opacity="1"/>
<line x1="589.92" y1="620.82" x2="586.16" y2="613.93" stroke="#dcdcdc" stroke-width="0.45" stroke-linecap="butt" opacity="1"/>
<line x1="594.61" y1="619.21" x2="590.37" y2="612.29" stroke="#dcdcdc" stroke-width="0.45" stroke-linecap="butt" opacity="1"/>
<line x1="599.31" y1="617.61" x2="594.59" y2="610.64" stroke="#dcdcdc" stroke-width="0.45" stroke-linecap="butt" opacity="1"/>
<line x1="482" y1="655" x2="600" y2="609" stroke="#909090" stroke-width="0.7" stroke-linecap="butt" opacity="1"/>
<rect x="598.9" y="601" width="7.4" height="4" fill="#c4c4cc" rx="1"/>
<path d="M481 654 L484.07 651.53 L487.14 649.24 L490.21 647.06 L493.28 644.95 L496.35 642.93 L499.42 640.98 L502.49 639.11 L505.56 637.31 L508.63 635.59 L511.7 633.95 L514.77 632.38 L517.84 630.88 L520.91 629.45 L523.98 628.09 L527.05 626.8 L530.12 625.57 L533.19 624.4 L536.26 623.29 L539.33 622.24 L542.4 621.24 L545.47 620.29 L548.54 619.38 L551.61 618.51 L554.68 617.68 L557.75 616.89 L560.82 616.13 L563.89 615.39 L566.96 614.67 L570.03 613.97 L573.1 613.29 L576.17 612.61 L579.24 611.94 L582.31 611.28 L585.38 610.61 L588.45 609.93 L591.52 609.23 L594.59 608.52 L597.66 607.77 L600.73 606.98 L603.8 606.1" fill="none" stroke="url(#cg8)" stroke-width="3.4" stroke-linecap="round" stroke-linejoin="round"/>
<text x="454.4" y="652" font-family='"Liberation Sans", sans-serif' font-size="6.8" font-weight="normal" text-anchor="middle" fill="#3a3a3a" stroke="#3a3a3a" stroke-width="0.22">20</text>
<text x="473.9" y="671.5" font-family='"Liberation Sans", sans-serif' font-size="6.8" font-weight="normal" text-anchor="middle" fill="#3a3a3a" stroke="#3a3a3a" stroke-width="0.22">50</text>
<text x="485.6" y="671.2" font-family='"Liberation Sans", sans-serif' font-size="6.8" font-weight="normal" text-anchor="middle" fill="#3a3a3a" stroke="#3a3a3a" stroke-width="0.22">0</text>
<text x="520" y="658" font-family='"Liberation Sans", sans-serif' font-size="6.8" font-weight="normal" text-anchor="middle" fill="#3a3a3a" stroke="#3a3a3a" stroke-width="0.22">1</text>
<text x="552" y="644.9" font-family='"Liberation Sans", sans-serif' font-size="6.8" font-weight="normal" text-anchor="middle" fill="#3a3a3a" stroke="#3a3a3a" stroke-width="0.22">2</text>
<text x="566.2" y="656.3" font-family='"Liberation Sans", sans-serif' font-size="6.5" font-weight="normal" text-anchor="middle" fill="#3a3a3a" stroke="#3a3a3a" stroke-width="0.22">x10<tspan dy="-2.5" font-size="4.5">3</tspan><tspan dy="2.5"> nm</tspan></text>
<text x="581.4" y="633.2" font-family='"Liberation Sans", sans-serif' font-size="6.8" font-weight="normal" text-anchor="middle" fill="#3a3a3a" stroke="#3a3a3a" stroke-width="0.22">3</text>
<text x="608" y="622.5" font-family='"Liberation Sans", sans-serif' font-size="6.8" font-weight="normal" text-anchor="middle" fill="#3a3a3a" stroke="#3a3a3a" stroke-width="0.22">4</text>
<line x1="469.5" y1="702.6" x2="458.5" y2="702.2" stroke="#6aa070" stroke-width="1.2" stroke-linecap="butt" opacity="1"/>
<line x1="469.5" y1="702.6" x2="469.5" y2="692" stroke="#4a5a80" stroke-width="1.2" stroke-linecap="butt" opacity="1"/>
<line x1="469.5" y1="702.6" x2="476.7" y2="700" stroke="#a03060" stroke-width="1.2" stroke-linecap="butt" opacity="1"/>
<text x="454.3" y="703.5" font-family='"Liberation Sans", sans-serif' font-size="6.6" font-weight="normal" text-anchor="middle" fill="#505050" stroke="#505050" stroke-width="0.22">y</text>
<text x="468" y="688.4" font-family='"Liberation Sans", sans-serif' font-size="6.2" font-weight="normal" text-anchor="middle" fill="#404040" stroke="#404040" stroke-width="0.22">z</text>
<text x="478.5" y="701.1" font-family='"Liberation Sans", sans-serif' font-size="5.6" font-weight="normal" text-anchor="middle" fill="#604050" stroke="#604050" stroke-width="0.22">x</text>
<text x="463.3" y="687.9" font-family='"Liberation Sans", sans-serif' font-size="6.2" font-weight="normal" text-anchor="middle" fill="#505050" stroke="#505050" stroke-width="0.22">nm</text>
</g>
<rect x="230" y="2" width="1" height="518" fill="#dcdcdc"/>
<rect x="232" y="2" width="1" height="518" fill="#b0b0b0"/>
<rect x="233" y="2" width="1" height="518" fill="#f4f4f4"/>
<rect x="230" y="721" width="1" height="32" fill="#dcdcdc"/>
<rect x="232" y="721" width="1" height="32" fill="#b0b0b0"/>
<rect x="233" y="721" width="1" height="32" fill="#f4f4f4"/>
<rect x="440" y="2" width="1" height="272" fill="#dcdcdc"/>
<rect x="442" y="2" width="1" height="272" fill="#b0b0b0"/>
<rect x="443" y="2" width="1" height="272" fill="#f4f4f4"/>
<rect x="440" y="456" width="1" height="63" fill="#dcdcdc"/>
<rect x="442" y="456" width="1" height="63" fill="#b0b0b0"/>
<rect x="443" y="456" width="1" height="63" fill="#f4f4f4"/>
<rect x="440" y="701" width="1" height="52" fill="#dcdcdc"/>
<rect x="442" y="701" width="1" height="52" fill="#b0b0b0"/>
<rect x="443" y="701" width="1" height="52" fill="#f4f4f4"/>
<rect x="677" y="2" width="1" height="15" fill="#dcdcdc"/>
<rect x="679" y="2" width="1" height="15" fill="#b0b0b0"/>
<rect x="680" y="2" width="1" height="15" fill="#f4f4f4"/>
<rect x="677" y="225" width="1" height="48" fill="#dcdcdc"/>
<rect x="679" y="225" width="1" height="48" fill="#b0b0b0"/>
<rect x="680" y="225" width="1" height="48" fill="#f4f4f4"/>
<rect x="677" y="482" width="1" height="37" fill="#dcdcdc"/>
<rect x="679" y="482" width="1" height="37" fill="#b0b0b0"/>
<rect x="680" y="482" width="1" height="37" fill="#f4f4f4"/>
<rect x="677" y="724" width="1" height="29" fill="#dcdcdc"/>
<rect x="679" y="724" width="1" height="29" fill="#b0b0b0"/>
<rect x="680" y="724" width="1" height="29" fill="#f4f4f4"/>
<rect x="2" y="256" width="677" height="1" fill="#e0e0e0"/>
<rect x="2" y="258" width="677" height="1" fill="#b0b0b0"/>
<rect x="2" y="259" width="677" height="1" fill="#f4f4f4"/>
<rect x="2" y="502" width="677" height="1" fill="#e0e0e0"/>
<rect x="2" y="504" width="677" height="1" fill="#b0b0b0"/>
<rect x="2" y="505" width="677" height="1" fill="#f4f4f4"/>
<rect x="1" y="752" width="679" height="1" fill="#d8d8d8"/>
<rect x="1" y="754" width="679" height="1" fill="#c8c8c8"/>
<rect x="0" y="0" width="680" height="1" fill="#a8a8a8"/>
<rect x="0" y="1" width="680" height="1" fill="#7c7c7c"/>
<rect x="2" y="2" width="678" height="1" fill="#e4e4e4"/>
<rect x="0" y="0" width="1" height="755" fill="#c8c8c8"/>
<rect x="1" y="1" width="1" height="753" fill="#686868"/>
<rect x="2" y="2" width="1" height="751" fill="#ececec"/>
<rect x="231" y="2" width="1" height="518" fill="#303030"/>
<rect x="231" y="721" width="1" height="32" fill="#303030"/>
<rect x="441" y="2" width="1" height="272" fill="#303030"/>
<rect x="441" y="456" width="1" height="63" fill="#303030"/>
<rect x="441" y="701" width="1" height="52" fill="#303030"/>
<rect x="678" y="2" width="1" height="15" fill="#303030"/>
<rect x="678" y="225" width="1" height="48" fill="#303030"/>
<rect x="678" y="482" width="1" height="37" fill="#303030"/>
<rect x="678" y="724" width="1" height="29" fill="#303030"/>
<rect x="2" y="257" width="677" height="1" fill="#303030"/>
<rect x="2" y="503" width="677" height="1" fill="#303030"/>
<rect x="1" y="753" width="679" height="1" fill="#484848"/>
<rect x="0" y="754" width="1" height="1" fill="#d0d0d0"/>
</svg>
</body></html>
